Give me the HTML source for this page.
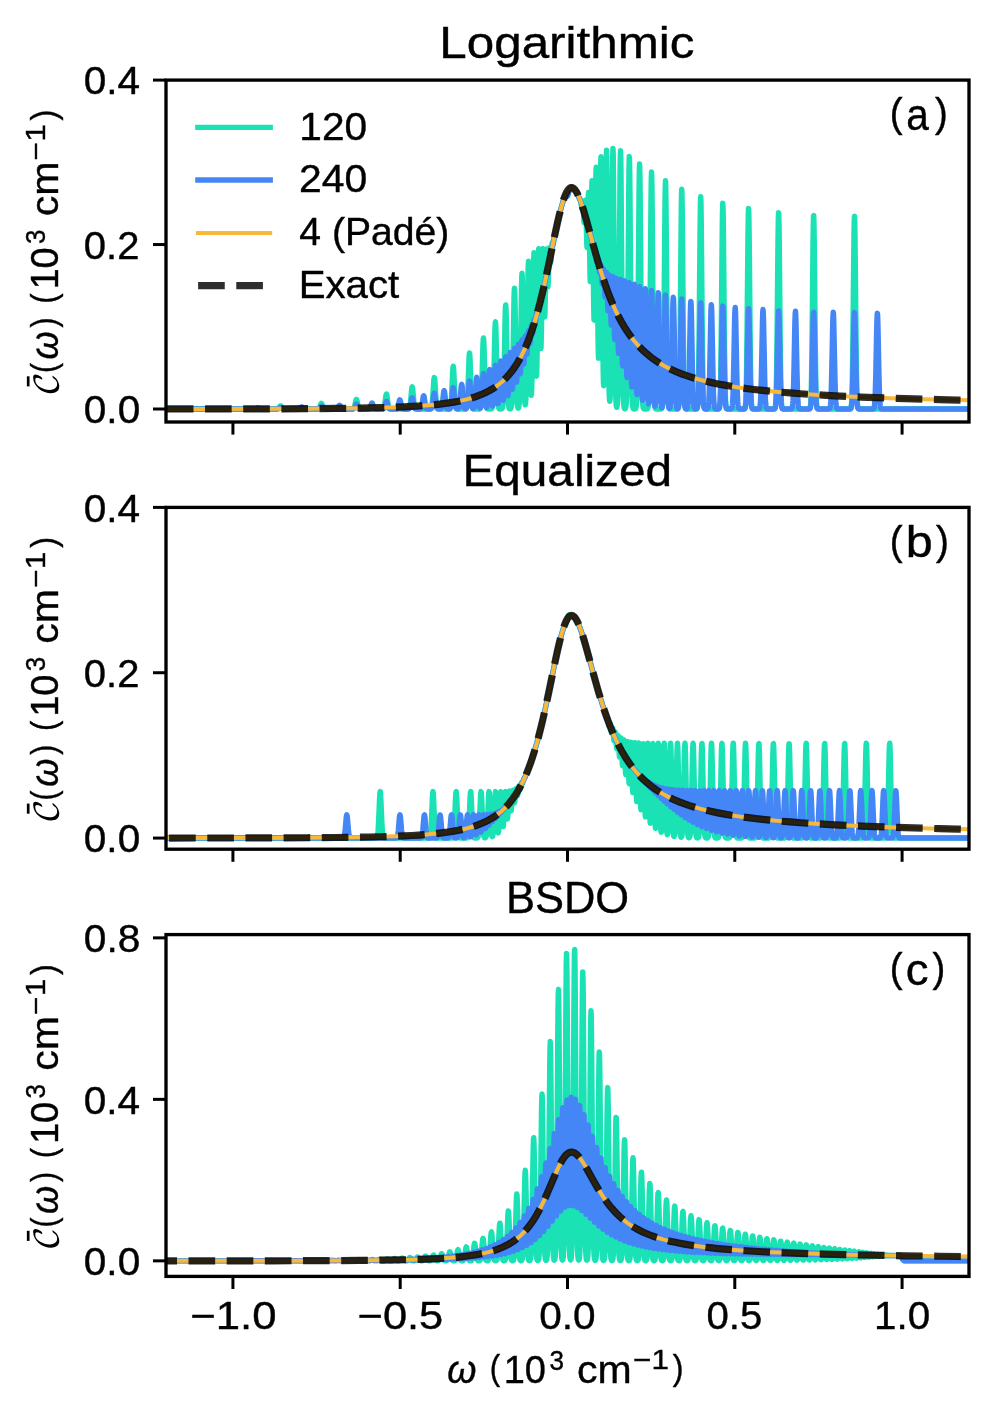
<!DOCTYPE html>
<html><head><meta charset="utf-8"><title>Bath correlation spectra</title>
<style>
html,body{margin:0;padding:0;background:#fff}
body{width:995px;height:1420px;position:relative;overflow:hidden;font-family:"Liberation Sans",sans-serif}
svg text{font-family:"Liberation Sans",sans-serif;fill:#000;stroke:#000;stroke-width:.4px}
</style></head><body>
<svg width="995" height="1420" viewBox="0 0 995 1420" style="display:block;position:absolute;left:0;top:0">
<rect width="995" height="1420" fill="#fff"/>
<defs>
<clipPath id="cpa"><rect x="166.00" y="80.10" width="803.00" height="341.90"/></clipPath>
<clipPath id="cpb"><rect x="166.00" y="507.40" width="803.00" height="341.80"/></clipPath>
<clipPath id="cpc"><rect x="166.00" y="934.60" width="803.00" height="341.80"/></clipPath>
</defs>
<g clip-path="url(#cpa)" fill="none" stroke-linejoin="round">
<path d="M158 409L276.75 408.99L277.75 408.86L278.25 408.61L278.75 408.12L280 406.18L280.25 405.94L280.5 405.85L280.75 405.91L281 406.11L282.25 408.04L282.75 408.57L283.25 408.84L284 408.98L317.5 408.99L318 408.94L318.5 408.79L319 408.4L319.25 408.06L319.75 407L320.75 404.1L321 403.59L321.25 403.32L321.5 403.33L321.75 403.62L322 404.14L323 407.05L323.5 408.08L324 408.65L324.25 408.8L324.75 408.94L326.25 409L352.25 408.99L353 408.91L353.5 408.67L353.75 408.42L354 408.04L354.25 407.49L354.75 405.76L355.75 400.9L356 400.01L356.25 399.51L356.5 399.48L356.75 399.91L357 400.75L358 405.62L358.5 407.4L358.75 407.98L359 408.38L359.25 408.64L359.75 408.9L360.25 408.98L361.25 409L382.25 408.99L383 408.87L383.5 408.53L383.75 408.17L384 407.61L384.25 406.79L384.75 404.2L385.75 396.57L386 395.1L386.25 394.21L386.5 394.03L386.75 394.59L387 395.82L388 403.41L388.5 406.3L388.75 407.27L389 407.94L389.25 408.38L389.5 408.66L390 408.91L391 409L408 408.98L408.75 408.81L409 408.64L409.25 408.33L409.5 407.81L409.75 407.01L410 405.82L410.5 402.04L411.5 390.74L411.75 388.5L412 387.11L412.25 386.78L412.5 387.55L412.75 389.3L413.75 400.53L414.25 404.89L414.5 406.35L414.75 407.37L415 408.05L415.25 408.47L415.5 408.72L415.75 408.86L416.5 408.99L430.25 408.96L430.75 408.8L431 408.61L431.25 408.25L431.5 407.65L431.75 406.69L432 405.25L432.25 403.19L432.75 397.02L433.75 381.13L434 378.64L434.25 377.56L434.5 378.03L434.75 379.99L435 383.15L435.75 395.48L436.25 402.18L436.5 404.5L436.75 406.18L437 407.32L437.25 408.05L437.5 408.49L437.75 408.74L438 408.87L438.5 408.97L449 408.97L449.5 408.85L449.75 408.69L450 408.4L450.25 407.87L450.5 406.98L450.75 405.57L451 403.46L451.5 396.6L452.75 370.4L453 367.34L453.25 366.24L453.5 367.26L453.75 370.25L454.75 391.59L455.25 400.37L455.5 403.36L455.75 405.5L456 406.93L456.25 407.84L456.5 408.38L456.75 408.69L457 408.85L457.5 408.97L465.25 408.96L465.75 408.81L466 408.61L466.25 408.22L466.5 407.54L466.75 406.39L467 404.57L467.25 401.84L467.75 392.92L469 358.57L469.25 354.49L469.5 352.96L469.75 354.22L470 358.07L471 385.98L471.5 397.55L471.75 401.51L472 404.34L472.25 406.24L472.5 407.45L472.75 408.17L473 408.58L473.25 408.8L473.5 408.91L474.75 409L478.5 409L479.25 408.94L479.75 408.72L480 408.42L480.25 407.86L480.5 406.88L480.75 405.26L481 402.71L481.25 398.96L481.75 386.95L482.75 350.84L483 343.63L483.25 339.13L483.5 337.97L483.75 340.34L484 345.88L485.25 389.49L485.5 395.73L485.75 400.42L486 403.72L486.25 405.91L486.5 407.28L486.75 408.09L487 408.54L487.25 408.78L487.5 408.9L488 408.98L490.5 408.99L491.25 408.92L491.5 408.82L491.75 408.61L492 408.2L492.25 407.45L492.5 406.14L492.75 403.98L493 400.64L493.25 395.74L493.75 380.36L494.75 335.86L495 327.46L495.25 322.55L495.5 321.83L495.75 325.41L496 332.77L497.25 386.38L497.5 393.74L497.75 399.21L498 403.03L498.25 405.54L498.5 407.09L498.75 408L499 408.5L499.25 408.76L499.75 408.95L500.75 408.99L501.5 408.91L501.75 408.79L502 408.54L502.25 408.06L502.5 407.18L502.75 405.64L503 403.11L503.25 399.17L503.5 393.39L504 375.18L505 322.08L505.25 311.94L505.5 305.93L505.75 304.91L506 309.03L506.25 317.69L507.25 370.56L507.5 381.69L508 397.14L508.25 401.76L508.5 404.79L508.75 406.67L509 407.78L509.25 408.39L509.5 408.7L509.75 408.85L510.25 408.88L510.5 408.78L510.75 408.54L511 408.05L511.25 407.14L511.5 405.53L511.75 402.85L512 398.64L512.25 392.4L512.75 372.32L514 298.52L514.25 290.54L514.5 288.2L514.75 291.86L515 300.97L516.25 375.09L516.75 393.99L517 399.73L517.25 403.55L517.5 405.93L517.75 407.3L518 407.98L518.25 408.16L518.5 407.89L518.75 407.07L519 405.48L519.25 402.75L519.5 398.39L519.75 391.83L520.25 370.37L521.5 287.13L521.75 277.11L522 273.25L522.25 276.14L522.5 285.33L523.5 352.83L524 380.96L524.25 390.56L524.5 397.34L524.75 401.71L525 404.09L525.25 404.79L525.5 403.9L525.75 401.27L526 396.54L526.25 389.23L526.5 378.87L527 348.43L528 274.72L528.25 264.48L528.5 261.09L528.75 265.04L529 275.74L530 349.6L530.5 378.82L530.75 388L531 393.45L531.25 395.26L531.5 393.48L531.75 388.01L532 378.7L532.5 348.66L533.5 270.11L533.75 257.98L534 252.82L534.25 255.4L534.5 265.29L535.75 356.87L536 368.74L536.25 375.33L536.5 376.23L536.75 371.37L537 360.99L537.25 345.74L538.25 267.16L538.5 254.47L538.75 248.78L539 250.9L539.25 260.37L540.25 330.2L540.5 342.49L540.75 348.62L541 347.81L541.25 340.17L541.5 326.68L542.25 271.85L542.5 257.65L542.75 249.49L543 248.51L543.25 254.6L544.25 308.75L544.5 316L544.75 316.81L545 311.08L545.25 299.96L546 258.49L546.25 250.76L546.5 248.86L546.75 252.65L547.5 279.74L547.75 285.61L548 286.77L548.25 283.01L549 256.88L549.25 250.41L549.5 247.68L549.75 248.74L550.5 261.05L550.75 262.49L551 261.05L551.75 247.41L552 244.07L552.25 242.67L552.5 242.94L553 244.94L553.25 244.91L553.5 243.68L554.25 236.82L554.5 235.25L554.75 234.33L555.25 233.18L555.5 232.33L556.75 225.87L558.75 217.32L560.5 210.33L561.75 205.76L562.75 202.41L563.75 199.37L564.5 197.41L565 196.39L565.5 195.78L565.75 195.66L566 195.66L566.75 196.07L567 196.14L567.25 196.06L567.5 195.78L568 194.58L569.25 190.21L569.5 189.56L570 188.64L570.5 188.13L570.75 187.98L571.25 187.82L572 187.83L572.5 187.96L573 188.19L573.75 188.7L574.5 189.4L575.25 190.31L576.25 191.77L577.5 194.15L578.25 195.42L578.5 196L579.25 198.6L579.5 199.23L579.75 199.46L580.25 199.33L580.5 199.75L580.75 200.95L581.5 207.07L581.75 207.75L582 206.97L582.5 203L582.75 202.05L583 203.24L583.25 206.84L583.75 217.79L584 221.8L584.25 222.7L584.5 219.94L585.25 202.05L585.5 200.25L585.75 203.42L586 211.42L586.75 243.5L587 247.44L587.25 244.84L587.5 236.05L588.25 197.88L588.5 192.5L588.75 194.88L589 205.16L589.75 260.26L590 274.63L590.25 281.48L590.5 279.24L590.75 268.05L591.75 189.48L592 180.71L592.25 182.03L592.5 193.59L592.75 213.72L593.5 291.12L593.75 309.82L594 319.95L594.25 320.08L594.5 310.03L594.75 290.93L595.75 184.81L596 170.48L596.25 167.27L596.5 175.84L596.75 194.98L597.75 313.28L598 336.07L598.25 351.35L598.5 358.09L598.75 355.85L599 344.69L599.25 325.19L600.5 176.86L600.75 160.87L601 156.71L601.25 165.04L601.5 184.63L602.5 311.49L603 359.91L603.25 374.81L603.5 383.4L603.75 385.88L604 382.3L604.25 372.53L604.5 356.34L605 305.12L606 175.9L606.25 157.18L606.5 150.28L606.75 156.21L607 174.11L608 303.05L608.5 356.29L608.75 374.41L609 387.17L609.25 395.39L609.5 399.9L609.75 401.29L610 399.76L610.25 395.09L610.5 386.66L610.75 373.63L611 355.19L611.5 301.2L612.5 171.65L612.75 154L613 148.47L613.25 155.86L613.5 175.1L614.75 334.85L615.25 376.05L615.5 388.63L615.75 397L616 402.24L616.25 405.28L616.5 406.82L616.75 407.3L617 406.87L617.25 405.39L617.5 402.45L617.75 397.35L618 389.19L618.25 376.9L618.75 336.47L620 177.98L620.25 158.49L620.5 150.67L620.75 155.67L621 172.74L622.25 330.56L622.75 373.5L623 386.85L623.25 395.86L623.5 401.58L623.75 405.02L624 406.97L624.25 408.01L624.5 408.52L624.75 408.74L625 408.78L625.25 408.65L625.5 408.28L625.75 407.51L626 406.03L626.25 403.36L626.5 398.79L626.75 391.43L627 380.24L627.5 342.74L627.75 315.74L628.75 187.5L629 166.48L629.25 156.48L629.5 158.96L629.75 173.54L630 198.14L631 326.95L631.5 371.14L631.75 385.15L632 394.71L632.25 400.86L632.5 404.59L632.75 406.73L633 407.89L633.25 408.48L633.5 408.77L633.75 408.9L634.25 408.98L634.75 408.98L635.25 408.87L635.5 408.7L635.75 408.33L636 407.59L636.25 406.18L636.5 403.63L636.75 399.26L637 392.22L637.25 381.49L637.5 366.12L637.75 345.43L639 194.79L639.25 174.09L639.5 164.03L639.75 166.05L640 179.86L640.25 203.48L641.25 328.52L641.75 371.75L642 385.5L642.25 394.9L642.5 400.95L642.75 404.63L643 406.75L643.25 407.89L643.5 408.48L643.75 408.77L644 408.9L644.5 408.99L646.25 409L647 408.94L647.25 408.86L647.5 408.67L647.75 408.27L648 407.48L648.25 405.97L648.5 403.27L648.75 398.71L649 391.4L649.25 380.38L649.5 364.75L649.75 343.93L651 198.44L651.25 179.96L651.5 172.07L651.75 175.92L652 190.94L652.25 214.99L653.25 335.45L653.75 375.5L654 388.03L654.25 396.52L654.5 401.94L654.75 405.2L655 407.05L655.25 408.05L655.5 408.56L655.75 408.81L656 408.92L656.5 408.99L660.5 408.99L661 408.93L661.25 408.83L661.5 408.62L661.75 408.17L662 407.28L662.25 405.62L662.5 402.69L662.75 397.78L663 390.02L663.25 378.49L663.5 362.35L664 315.2L665 201.51L665.25 185.82L665.5 180.72L665.75 186.94L666 203.57L667.25 343.5L667.75 379.83L668 390.95L668.25 398.38L668.5 403.05L668.75 405.84L669 407.4L669.25 408.23L669.5 408.65L669.75 408.85L670 408.94L670.5 408.99L675.75 409L677 408.97L677.5 408.84L677.75 408.64L678 408.22L678.25 407.38L678.5 405.81L678.75 403.03L679 398.37L679.25 391L679.5 380.01L679.75 364.6L680.25 319.46L681.25 209.73L681.5 194.34L681.75 189.1L682 194.76L682.25 210.51L683.5 345.23L684 380.52L684.25 391.35L684.5 398.59L684.75 403.17L685 405.89L685.25 407.42L685.5 408.24L685.75 408.65L686 408.85L686.5 408.98L687 409L695 409L696 408.97L696.5 408.82L696.75 408.6L697 408.13L697.25 407.23L697.5 405.54L697.75 402.58L698 397.66L698.25 389.98L698.5 378.65L698.75 362.94L699.25 317.78L700 234.58L700.25 213.21L700.5 199.99L700.75 196.81L701 204.15L701.25 220.92L702.25 328.14L702.75 369.78L703 383.67L703.25 393.44L703.5 399.91L703.75 403.95L704 406.33L704.25 407.66L704.5 408.36L704.75 408.71L705 408.87L705.25 408.95L706 409L717.5 409L718 408.98L718.5 408.88L718.75 408.72L719 408.38L719.25 407.7L719.5 406.41L719.75 404.1L720 400.18L720.25 393.9L720.5 384.42L720.75 370.94L721.25 330.54L722.25 226.53L722.5 210.26L722.75 203.15L723 206.24L723.25 219.07L723.5 239.8L724.5 344.53L725 379.56L725.25 390.55L725.5 398.01L725.75 402.77L726 405.64L726.25 407.28L726.5 408.16L726.75 408.61L727 408.83L727.5 408.97L728.25 409L743 409L744 408.95L744.5 408.74L744.75 408.42L745 407.79L745.25 406.58L745.5 404.41L745.75 400.71L746 394.76L746.25 385.75L746.5 372.88L747 334.03L748 232.32L748.25 215.94L748.5 208.37L748.75 210.72L749 222.65L749.25 242.44L750.25 344.69L750.75 379.44L751 390.42L751.25 397.89L751.5 402.68L751.75 405.58L752 407.24L752.25 408.14L752.5 408.6L752.75 408.82L753.25 408.97L754 409L773.75 408.99L774.25 408.9L774.5 408.78L774.75 408.5L775 407.95L775.25 406.88L775.5 404.94L775.75 401.6L776 396.19L776.25 387.9L776.5 375.94L777 339.24L778 239.02L778.25 221.7L778.5 212.73L778.75 213.4L779 223.63L779.25 241.93L780.25 342.31L780.75 377.83L781 389.24L781.25 397.08L781.5 402.17L781.75 405.27L782 407.07L782.25 408.05L782.5 408.55L782.75 408.8L783.25 408.97L784 409L808.75 408.99L809.25 408.91L809.5 408.8L809.75 408.55L810 408.04L810.25 407.05L810.5 405.24L810.75 402.12L811 397.03L811.25 389.18L811.5 377.79L812 342.45L813 243.44L813.25 225.61L813.5 215.83L813.75 215.49L814 224.66L814.25 241.99L815.25 340.93L815.75 376.85L816 388.51L816.25 396.58L816.5 401.84L816.75 405.08L817 406.96L817.25 407.99L817.5 408.52L817.75 408.79L818 408.91L818.75 408.99L849.5 408.99L850 408.94L850.25 408.85L850.5 408.66L850.75 408.26L851 407.48L851.25 406.02L851.5 403.45L851.75 399.16L852 392.42L852.25 382.43L852.75 350.33L854 232.53L854.25 219.83L854.5 216.15L854.75 222.04L855 236.63L856.25 354.96L856.75 385.1L857 394.26L857.25 400.35L857.5 404.18L857.75 406.44L858 407.71L858.25 408.38L858.5 408.72L858.75 408.88L859.25 408.98L860 409L977 409" stroke="#1be2b4" stroke-width="5.40"/>
<path d="M158 409L253.75 409L254.75 408.96L255.5 408.82L256 408.61L257 408.04L257.5 407.88L257.75 407.87L258.25 408.03L259.25 408.6L259.75 408.81L260.75 408.98L276.75 409L277.75 408.93L278.25 408.8L278.75 408.56L280 407.59L280.5 407.42L281 407.56L282.5 408.67L283 408.86L283.5 408.95L284.75 409L297.75 409L298.75 408.94L299.5 408.71L300 408.36L301.25 407.05L301.5 406.9L301.75 406.86L302 406.92L302.25 407.08L303.25 408.15L303.75 408.58L304.25 408.83L304.75 408.95L306 409L317.5 408.99L318.5 408.9L319 408.7L319.25 408.53L319.75 408L320.75 406.55L321 406.29L321.25 406.16L321.5 406.16L321.75 406.31L322 406.57L323.25 408.31L323.75 408.71L324.25 408.9L325.5 409L335.5 409L336.5 408.91L337 408.73L337.25 408.56L337.5 408.31L338 407.58L339 405.7L339.25 405.4L339.5 405.27L339.75 405.33L340 405.56L340.25 405.94L341 407.4L341.5 408.19L342 408.67L342.5 408.89L343.75 409L352.25 409L353 408.95L353.5 408.83L354 408.52L354.25 408.24L354.75 407.38L355.75 404.95L356 404.5L356.25 404.26L356.5 404.24L356.75 404.46L357 404.88L358.25 407.81L358.75 408.49L359.25 408.82L359.75 408.95L360.5 408.99L368 408.99L368.5 408.96L369 408.83L369.5 408.5L369.75 408.2L370.25 407.21L371.5 403.52L371.75 403.1L372 402.97L372.25 403.13L372.5 403.57L373.5 406.59L374 407.81L374.25 408.23L374.75 408.72L375.25 408.92L376 408.99L382.25 408.99L383 408.93L383.5 408.76L384 408.31L384.25 407.9L384.75 406.6L385.75 402.79L386 402.05L386.25 401.6L386.5 401.52L386.75 401.8L387 402.41L388.25 407.01L388.75 408.13L389.25 408.69L389.75 408.91L390.5 408.99L395.75 408.99L396.25 408.94L396.75 408.79L397.25 408.34L397.5 407.93L397.75 407.33L398.25 405.55L399.25 400.9L399.5 400.16L399.75 399.82L400 399.94L400.25 400.49L400.5 401.41L401.25 405L401.75 406.97L402 407.66L402.25 408.16L402.5 408.5L403 408.85L403.5 408.96L408 408.99L408.75 408.91L409.25 408.66L409.5 408.41L409.75 408L410 407.41L410.5 405.52L411.5 399.87L411.75 398.75L412 398.06L412.25 397.89L412.5 398.27L412.75 399.15L414 405.98L414.25 406.95L414.5 407.67L414.75 408.19L415 408.52L415.25 408.74L415.75 408.93L416.75 409L419.5 408.99L420.25 408.88L420.75 408.57L421 408.25L421.25 407.75L421.5 407.01L422 404.69L423 397.92L423.25 396.63L423.5 395.86L423.75 395.73L424 396.25L424.25 397.36L425.5 405.52L425.75 406.65L426 407.49L426.25 408.08L426.5 408.46L426.75 408.7L427.25 408.92L428 408.99L430.25 408.98L430.75 408.9L431.25 408.63L431.5 408.33L431.75 407.85L432 407.12L432.25 406.09L432.75 403.01L433.75 395.06L434 393.82L434.25 393.28L434.5 393.51L434.75 394.49L435 396.08L436 404.08L436.25 405.59L436.75 407.59L437 408.16L437.25 408.52L437.75 408.87L438.5 408.99L440 408.98L440.75 408.82L441 408.65L441.25 408.36L441.5 407.88L441.75 407.15L442 406.08L442.5 402.76L443.5 393.38L443.75 391.67L444 390.72L444.25 390.66L444.5 391.5L444.75 393.12L445.75 402.49L446 404.41L446.5 407.03L446.75 407.81L447 408.31L447.25 408.62L447.75 408.9L448.25 408.98L449 408.98L449.75 408.85L450 408.7L450.25 408.43L450.5 407.99L450.75 407.28L451 406.23L451.5 402.8L452.75 389.7L453 388.17L453.25 387.62L453.5 388.13L453.75 389.63L455 402.71L455.5 406.18L455.75 407.25L456 407.97L456.25 408.42L456.5 408.69L456.75 408.84L457.25 408.96L457.75 408.95L458.25 408.79L458.5 408.59L458.75 408.25L459 407.68L459.25 406.78L459.5 405.46L460 401.26L461 388.76L461.25 386.3L461.5 384.79L461.75 384.45L462 385.32L462.25 387.28L463.25 399.7L463.75 404.5L464 406.09L464.25 407.22L464.5 407.96L464.75 408.42L465 408.69L465.25 408.83L465.75 408.87L466 408.79L466.25 408.61L466.5 408.27L466.75 407.7L467 406.78L467.25 405.42L467.75 400.96L469 383.79L469.25 381.74L469.5 380.98L469.75 381.61L470 383.53L471.25 400.67L471.75 405.25L472 406.67L472.25 407.61L472.5 408.2L472.75 408.53L473 408.68L473.25 408.67L473.5 408.5L473.75 408.13L474 407.48L474.25 406.44L474.5 404.87L474.75 402.67L475.25 396.21L476.25 380.37L476.5 378.12L476.75 377.32L477 378.09L477.25 380.33L478.25 396.15L478.75 402.63L479 404.83L479.25 406.39L479.5 407.41L479.75 408L480 408.25L480.25 408.2L480.5 407.83L480.75 407.08L481 405.84L481.25 403.97L481.75 397.97L482.75 379.92L483 376.31L483.25 374.06L483.5 373.49L483.75 374.67L484 377.44L485 395.35L485.5 402.33L485.75 404.63L486 406.18L486.25 407.09L486.5 407.44L486.75 407.25L487 406.5L487.25 405.1L487.5 402.95L488 396.02L489 375.89L489.25 372.09L489.5 369.87L489.75 369.55L490 371.17L490.25 374.51L491.25 394.53L491.75 401.9L492 404.17L492.25 405.52L492.5 406L492.75 405.63L493 404.36L493.25 402.15L493.5 398.9L494 389.46L494.75 372.43L495 368.23L495.25 365.77L495.5 365.41L495.75 367.2L496 370.88L497.25 397.33L497.5 400.67L497.75 402.79L498 403.68L498.25 403.32L498.5 401.69L498.75 398.77L499.25 389.29L500.25 365.51L500.5 362.18L500.75 361.07L501 362.33L501.25 365.78L502.5 394.26L502.75 397.85L503 399.88L503.25 400.26L503.5 398.95L503.75 395.96L504 391.42L505 365.51L505.25 360.46L505.5 357.45L505.75 356.94L506 358.97L506.25 363.25L507 382.45L507.5 392.6L507.75 395.13L508 395.6L508.25 393.94L508.5 390.25L508.75 384.8L509.75 357.8L510 353.91L510.25 352.59L510.5 354.03L510.75 357.97L511.75 383.34L512 387.56L512.25 389.56L512.5 389.09L512.75 386.16L513 381.07L514 353.54L514.25 349.61L514.5 348.42L514.75 350.1L515 354.34L515.75 373.76L516 378.89L516.25 381.84L516.5 382.14L516.75 379.69L517 374.8L517.75 353.62L518 348.01L518.25 344.8L518.5 344.47L518.75 347.01L519.75 369.86L520 373.12L520.25 373.68L520.5 371.38L520.75 366.58L521.5 346.58L521.75 342.01L522 340.06L522.25 341.02L522.5 344.55L523.25 360.6L523.5 363.69L523.75 364.16L524 361.84L524.25 357.15L525 339.4L525.25 336.24L525.5 335.74L525.75 337.85L526.5 351.03L526.75 353.7L527 353.96L527.25 351.67L528 336.58L528.25 332.64L528.5 330.86L528.75 331.47L529 334.06L529.5 341.17L529.75 343.35L530 343.5L530.25 341.47L531 329.05L531.25 326.28L531.5 325.42L531.75 326.44L532.25 331.2L532.5 332.93L532.75 333.14L533 331.6L533.75 321.94L534 319.89L534.25 319.34L534.5 320.09L535 322.75L535.25 323.08L535.5 322.15L536.25 314.93L536.5 313.18L536.75 312.47L537 312.63L537.25 313.16L537.5 313.45L537.75 313.03L538 311.78L538.75 306.24L539 305.19L539.25 304.73L539.5 304.56L539.75 304.29L540 303.59L541 298.02L541.25 297.06L542 294.95L542.25 293.89L543 290.07L544 286.16L547.5 270.1L556.25 228.34L558.75 217.34L560.75 209.38L562 204.89L563 201.62L564 198.68L564.75 196.87L565.25 196.05L565.5 195.82L565.75 195.71L566 195.74L566.75 196.23L567 196.32L567.25 196.25L567.5 195.97L568 194.76L569.25 190.27L569.75 189.07L570 188.66L570.5 188.13L571 187.88L571.5 187.8L572 187.83L572.75 188.06L573.25 188.34L574 188.91L574.5 189.41L575.25 190.31L576 191.39L576.75 192.65L578 195.11L579.5 198.62L581 202.64L582.75 207.87L584.25 212.73L586 218.72L590 233.01L591 237.04L591.75 239.21L592 240.12L592.75 243.79L593 244.7L593.25 245.23L593.75 245.99L594 246.84L594.75 251.59L595 252.74L595.25 253.16L595.5 252.98L595.75 252.68L596 252.87L596.25 253.96L597 260.76L597.25 262.07L597.5 262.09L598 259.72L598.25 259.01L598.5 259.7L598.75 262L599.25 269.1L599.5 271.76L599.75 272.6L600 271.44L600.5 266.16L600.75 264.56L601 265.11L601.25 268.07L602 282.33L602.25 284.22L602.5 283.22L603.25 270.95L603.5 268.96L603.75 270.13L604 274.52L604.75 294.16L605 296.98L605.25 296.04L605.5 291.66L606 278.45L606.25 273.67L606.5 272.4L606.75 275.33L607 282.02L607.75 307.34L608 310.76L608.25 309.6L608.5 304.18L609.25 279.13L609.5 275.13L609.75 275.91L610 281.57L610.75 313.34L611 321.48L611.25 325.16L611.5 323.6L611.75 317.14L612.5 285.52L612.75 278.63L613 276.72L613.25 280.39L613.5 289.08L614.25 326.88L614.5 335.71L614.75 339.58L615 337.82L615.25 330.74L616.25 283.77L616.5 278.57L616.75 279.2L617 285.67L617.25 296.95L618 339.31L618.25 348.86L618.5 353.34L618.75 352.11L619 345.36L620 292.19L620.25 283.08L620.5 279.45L620.75 282L621 290.37L622 348.92L622.25 359.57L622.5 365.46L622.75 365.94L623 360.97L623.25 351.11L624.25 293.09L624.5 284.1L624.75 280.83L625 283.82L625.25 292.64L626.25 353.84L626.5 366.08L626.75 374.23L627 377.64L627.25 376.07L627.5 369.64L628 344.71L628.75 298.04L629 287.65L629.25 282.7L629.5 283.95L629.75 291.23L630 303.49L631 366.23L631.25 377.14L631.5 384.21L631.75 387.12L632 385.79L632.25 380.26L632.5 370.77L633.75 296.46L634 287.49L634.25 284.2L634.5 287.1L634.75 295.76L635.75 357.66L636.25 382.27L636.5 389.76L636.75 393.85L637 394.53L637.25 391.83L637.5 385.73L637.75 376.29L639 301.88L639.25 291.54L639.5 286.51L639.75 287.52L640 294.43L640.25 306.23L641.25 368.61L641.75 389.68L642 395.86L642.25 399.31L642.5 400.2L642.75 398.58L643 394.37L643.25 387.39L643.5 377.52L644.75 303.74L645 293.57L645.25 288.61L645.5 289.59L645.75 296.37L646 307.97L647 369.39L647.5 390.51L647.75 397.07L648 401.3L648.25 403.53L648.5 403.99L648.75 402.74L649 399.66L649.25 394.44L649.5 386.76L650 363.48L651 303.72L651.25 294.48L651.5 290.54L651.75 292.46L652 299.97L652.25 312L653.25 372.22L653.75 392.22L654 398.44L654.25 402.57L654.5 405.06L654.75 406.25L655 406.35L655.25 405.39L655.5 403.19L655.75 399.44L656 393.7L656.25 385.61L656.75 361.8L657.75 303.7L658 295.5L658.25 292.66L658.5 295.59L658.75 303.86L659.75 362.01L660.25 385.76L660.5 393.84L660.75 399.59L661 403.42L661.25 405.81L661.5 407.15L661.75 407.74L662 407.74L662.25 407.13L662.5 405.76L662.75 403.35L663 399.5L663.25 393.74L663.75 375.08L665 305.25L665.25 297.41L665.5 294.86L665.75 297.97L666 306.29L667.25 376.25L667.75 394.42L668 399.97L668.25 403.68L668.5 406.02L668.75 407.39L669 408.13L669.25 408.46L669.5 408.49L669.75 408.23L670 407.58L670.25 406.35L670.5 404.25L670.75 400.87L671 395.75L671.25 388.47L671.75 366.6L672.75 310.02L673 301.09L673.25 297.13L673.5 298.7L673.75 305.58L674 316.78L675 373.73L675.5 392.86L675.75 398.88L676 402.96L676.25 405.57L676.5 407.15L676.75 408.05L677 408.52L677.25 408.75L677.5 408.83L677.75 408.78L678 408.59L678.25 408.18L678.5 407.4L678.75 406.01L679 403.68L679.25 400L679.5 394.5L680 376.67L681.25 309.36L681.5 301.67L681.75 299.05L682 301.88L682.25 309.76L683.5 377.12L684 394.76L684.25 400.17L684.5 403.8L684.75 406.08L685 407.45L685.25 408.21L685.5 408.62L685.75 408.82L686 408.92L686.5 408.94L686.75 408.87L687 408.73L687.25 408.42L687.5 407.84L687.75 406.78L688 404.96L688.25 402L688.5 397.47L689 382.08L689.25 370.85L690.25 315.95L690.5 306.44L690.75 301.5L691 301.85L691.25 307.43L691.5 317.43L692.5 372.41L693 391.89L693.25 398.15L693.5 402.46L693.75 405.25L694 406.95L694.25 407.94L694.5 408.48L694.75 408.75L695 408.89L695.75 408.99L696.5 408.91L696.75 408.8L697 408.57L697.25 408.11L697.5 407.27L697.75 405.79L698 403.33L698.25 399.49L698.5 393.82L698.75 385.97L699 375.77L700 321.79L700.25 311.1L700.5 304.5L700.75 302.91L701 306.57L701.25 314.96L702.25 368.57L702.75 389.39L703 396.33L703.25 401.22L703.5 404.46L703.75 406.48L704 407.67L704.25 408.33L704.5 408.68L704.75 408.85L705.5 408.99L707 408.94L707.5 408.71L707.75 408.39L708 407.78L708.25 406.67L708.5 404.78L708.75 401.74L709 397.12L709.25 390.52L709.5 381.64L710.75 317.52L711 308.84L711.25 304.71L711.5 305.73L711.75 311.75L712 321.91L713 375.11L713.5 393.36L713.75 399.15L714 403.1L714.25 405.64L714.5 407.18L714.75 408.06L715 408.54L715.25 408.79L715.5 408.91L716.5 409L718.5 408.94L719 408.69L719.25 408.35L719.5 407.71L719.75 406.55L720 404.59L720.25 401.45L720.5 396.71L720.75 389.97L721 380.98L722.25 317.76L722.5 309.63L722.75 306.08L723 307.62L723.25 314.03L723.5 324.4L724.5 376.77L725 394.28L725.25 399.78L725.5 403.5L725.75 405.88L726 407.32L726.25 408.14L726.5 408.58L726.75 408.81L727 408.91L727.75 408.99L730.5 408.99L731 408.91L731.25 408.8L731.5 408.57L731.75 408.12L732 407.29L732.25 405.84L732.5 403.44L732.75 399.69L733 394.18L733.25 386.56L733.75 364.76L734.5 324.98L734.75 314.9L735 308.77L735.25 307.47L735.5 311.2L735.75 319.41L736.75 370.83L737.25 390.57L737.5 397.12L737.75 401.72L738 404.76L738.25 406.65L738.5 407.76L738.75 408.38L739 408.7L739.25 408.87L739.75 408.98L741 409L743.75 408.99L744.5 408.87L744.75 408.71L745 408.4L745.25 407.79L745.5 406.71L745.75 404.86L746 401.88L746.25 397.37L746.75 382.32L748 320.66L748.25 312.47L748.5 308.68L748.75 309.86L749 315.83L749.25 325.72L750.25 376.85L750.75 394.22L751 399.71L751.25 403.44L751.5 405.84L751.75 407.29L752 408.12L752.25 408.57L752.5 408.8L752.75 408.91L753.5 408.99L757.75 409L758.5 408.97L759 408.85L759.25 408.66L759.5 408.3L759.75 407.62L760 406.4L760.25 404.36L760.5 401.11L760.75 396.26L761 389.42L761.5 369.27L762.5 319.44L762.75 312.22L763 309.54L763.25 311.79L763.5 318.65L764.75 379.51L765.25 395.74L765.5 400.76L765.75 404.13L766 406.26L766.25 407.53L766.5 408.25L766.75 408.64L767 408.83L767.5 408.97L768.25 409L773.5 409L774.5 408.89L774.75 408.75L775 408.47L775.25 407.94L775.5 406.97L775.75 405.3L776 402.59L776.25 398.45L776.75 384.38L778 324.01L778.25 315.35L778.5 310.86L778.75 311.2L779 316.32L779.25 325.47L780.25 375.65L780.75 393.41L781 399.12L781.25 403.04L781.5 405.58L781.75 407.14L782 408.03L782.25 408.52L782.5 408.78L782.75 408.9L783.25 408.98L784.25 409L790.25 409L791.25 408.92L791.5 408.81L791.75 408.6L792 408.18L792.25 407.4L792.5 406.03L792.75 403.76L793 400.22L793.25 394.99L793.5 387.74L794 366.92L794.75 328.58L795 318.75L795.25 312.67L795.5 311.23L795.75 314.63L796 322.37L797 371.79L797.5 390.96L797.75 397.35L798 401.85L798.25 404.82L798.5 406.68L798.75 407.77L799 408.38L799.25 408.71L799.5 408.87L800 408.98L800.75 409L808.5 409L809.5 408.9L809.75 408.77L810 408.52L810.25 408.02L810.5 407.12L810.75 405.56L811 403.01L811.25 399.09L811.75 385.63L812.25 363.94L813 326.22L813.25 317.31L813.5 312.41L813.75 312.25L814 316.83L814.25 325.5L815.25 374.97L815.75 392.93L816 398.76L816.25 402.79L816.5 405.42L816.75 407.04L817 407.98L817.25 408.49L817.5 408.76L817.75 408.89L818.25 408.98L828.75 408.97L829.25 408.85L829.5 408.68L829.75 408.33L830 407.68L830.25 406.52L830.5 404.56L830.75 401.45L831 396.78L831.25 390.19L831.75 370.71L832.75 322.12L833 314.96L833.25 312.2L833.5 314.24L833.75 320.78L835 379.97L835.5 395.91L835.75 400.85L836 404.17L836.25 406.28L836.5 407.54L836.75 408.26L837 408.64L837.25 408.83L837.75 408.97L838.5 409L849.25 409L850.25 408.93L850.5 408.83L850.75 408.63L851 408.24L851.25 407.51L851.5 406.22L851.75 404.08L852 400.71L852.25 395.72L852.5 388.76L853 368.57L853.75 330.72L854 320.76L854.25 314.41L854.5 312.58L854.75 315.52L855 322.81L856.25 381.98L856.75 397.05L857 401.63L857.25 404.68L857.5 406.59L857.75 407.72L858 408.35L858.25 408.69L858.75 408.94L859.5 409L872.75 408.98L873.25 408.89L873.5 408.76L873.75 408.5L874 407.98L874.25 407.05L874.5 405.44L874.75 402.83L875 398.82L875.25 393.04L875.75 375.24L876.75 326.33L877 317.79L877.25 313.31L877.5 313.52L877.75 318.4L878 327.25L879 376.2L879.5 393.63L879.75 399.25L880 403.11L880.25 405.62L880.5 407.15L880.75 408.04L881 408.53L881.25 408.78L881.75 408.96L882.75 409L977 409" stroke="#4486f6" stroke-width="5.40"/>
<path d="M158 408.98L221.75 408.93L267.5 408.84L303 408.7L331.75 408.49L356.25 408.18L367 407.98L376.75 407.76L386 407.51L394.5 407.22L402.5 406.89L409.75 406.53L417.25 406.08L424.25 405.59L430.75 405.04L436.75 404.44L442.5 403.77L447.75 403.06L453 402.23L457.75 401.36L462.25 400.41L466.75 399.33L470.75 398.23L474.75 396.98L478.5 395.64L482 394.23L485.25 392.77L487 391.91L488.5 391.12L490.25 390.16L491.75 389.28L493.25 388.35L494.75 387.37L496.25 386.33L497.75 385.23L499.25 384.07L500.5 383.05L502 381.76L503.25 380.63L504.5 379.44L505.75 378.19L507 376.88L508.25 375.5L510.5 372.83L511.75 371.25L512.75 369.92L514 368.18L515 366.72L516.25 364.82L517.25 363.22L519.25 359.83L521.25 356.14L523.25 352.13L525.25 347.79L527.25 343.07L529 338.62L530.75 333.85L532.5 328.74L534 324.08L535.75 318.3L537.25 313.05L538.75 307.53L540.5 300.73L541.75 295.65L543.25 289.32L544.75 282.74L546.25 275.94L549 263.01L554.75 235.27L557.25 223.74L558.5 218.28L559.5 214.12L560.75 209.23L561.75 205.59L563 201.43L564.25 197.74L565 195.78L565.5 194.59L566.25 192.96L566.75 191.99L567.5 190.71L568 189.97L568.75 189.05L569.25 188.56L569.75 188.17L570.25 187.87L570.75 187.67L571 187.61L571.5 187.55L572 187.6L572.5 187.73L573 187.96L573.5 188.28L574 188.69L574.5 189.19L575 189.78L575.75 190.81L576.75 192.46L577.25 193.4L578 194.95L579 197.24L580.25 200.44L581.25 203.24L582.25 206.23L583.5 210.18L584.75 214.35L587.25 223.12L593.75 246.87L597 258.39L598.75 264.36L600.5 270.12L602.25 275.67L603.75 280.24L605.5 285.36L607.5 290.93L609.5 296.2L611.5 301.17L613.5 305.85L615.5 310.27L617.5 314.42L619.75 318.81L622 322.9L623.25 325.05L624.5 327.13L627 331.05L629.5 334.69L632 338.07L633.25 339.67L634.75 341.51L636 342.98L637.5 344.69L640.25 347.62L641.75 349.14L643.25 350.58L644.75 351.97L646.25 353.31L649.25 355.83L650.75 357.01L652.5 358.34L655.75 360.65L657.5 361.82L659.25 362.94L661 364.01L663 365.19L666.75 367.24L668.75 368.27L671 369.37L673 370.3L675.25 371.31L677.5 372.26L679.75 373.17L682 374.04L684.5 374.96L689.5 376.67L694.75 378.3L700 379.77L705.75 381.24L711.75 382.62L718 383.92L724.5 385.15L731.25 386.29L738.5 387.41L746 388.45L754 389.45L762.5 390.42L771.25 391.31L780.5 392.16L790.25 392.96L800.5 393.73L811.25 394.45L822.75 395.15L834.75 395.81L847.5 396.44L861 397.04L875 397.6L889.75 398.14L905.5 398.66L922 399.15L939.5 399.61L957.75 400.06L977 400.48" stroke="#f8b83a" stroke-width="4.00"/>
<path d="M166 408.97L227.5 408.92L272 408.83L307 408.68L335 408.45L359 408.13L369.5 407.93L379.25 407.7L388.25 407.43L396.5 407.14L404.25 406.81L411.5 406.43L418.75 405.98L425.5 405.49L431.75 404.95L437.75 404.33L443.5 403.64L448.75 402.91L453.75 402.1L458.5 401.21L463 400.24L467.25 399.2L471.25 398.08L475.25 396.81L479 395.45L482.5 394.02L485.75 392.53L487.5 391.65L489 390.85L490.5 390.01L492 389.13L493.5 388.19L495 387.2L496.5 386.15L498 385.04L499.5 383.87L500.75 382.84L502.25 381.54L503.5 380.4L504.75 379.19L506 377.93L507.25 376.61L508.5 375.21L510.75 372.52L512 370.92L513 369.58L514.25 367.82L515.25 366.35L516.5 364.43L517.5 362.81L519.5 359.38L521.5 355.65L523.5 351.61L525.5 347.22L527.25 343.07L529 338.62L530.75 333.85L532.5 328.74L534 324.08L535.75 318.3L537.25 313.05L538.75 307.53L540.5 300.73L541.75 295.65L543.25 289.32L544.75 282.74L546.25 275.94L549 263.01L554.75 235.27L557.25 223.74L558.5 218.28L559.5 214.12L560.75 209.23L561.75 205.59L563 201.43L564.25 197.74L565 195.78L565.5 194.59L566.25 192.96L566.75 191.99L567.5 190.71L568 189.97L568.75 189.05L569.25 188.56L569.75 188.17L570.25 187.87L570.75 187.67L571 187.61L571.5 187.55L572 187.6L572.5 187.73L573 187.96L573.5 188.28L574 188.69L574.5 189.19L575 189.78L575.75 190.81L576.75 192.46L577.25 193.4L578 194.95L579 197.24L580.25 200.44L581.25 203.24L582.25 206.23L583.5 210.18L584.75 214.35L587.25 223.12L593.75 246.87L597 258.39L598.75 264.36L600.5 270.12L602.25 275.67L603.75 280.24L605.5 285.36L607.5 290.93L609.5 296.2L611.5 301.17L613.5 305.85L615.5 310.27L617.5 314.42L619.75 318.81L622 322.9L623.25 325.05L624.5 327.13L627 331.05L629.5 334.69L632 338.07L633.25 339.67L634.75 341.51L636 342.98L637.5 344.69L640.25 347.62L641.75 349.14L643.25 350.58L644.75 351.97L646.25 353.31L649.25 355.83L650.75 357.01L652.5 358.34L655.75 360.65L657.5 361.82L659.25 362.94L661 364.01L663 365.19L666.75 367.24L668.75 368.27L671 369.37L673 370.3L675.25 371.31L677.5 372.26L679.75 373.17L682 374.04L684.5 374.96L689.5 376.67L694.75 378.3L700 379.77L705.75 381.24L711.75 382.62L718 383.92L724.5 385.15L731.25 386.29L738.5 387.41L746 388.45L754 389.45L762.5 390.42L771.25 391.31L780.5 392.16L790.25 392.96L800.5 393.73L811.25 394.45L822.75 395.15L834.75 395.81L847.5 396.44L861 397.04L875 397.6L889.75 398.14L905.5 398.66L922 399.15L939.5 399.61L957.75 400.06L977 400.48" stroke="#000" stroke-opacity="0.82" stroke-width="7.20" stroke-dasharray="26.65 11.52" stroke-dashoffset="37.32"/>
</g>
<g clip-path="url(#cpb)" fill="none" stroke-linejoin="round">
<path d="M158 838.07L374.5 838.07L375.75 838.05L376.25 837.98L376.5 837.88L376.75 837.69L377 837.33L377.25 836.69L377.5 835.64L377.75 833.98L378 831.54L378.5 823.7L379.5 800.07L379.75 795.33L380 792.35L380.25 791.56L380.5 793.08L380.75 796.68L381.75 820.13L382.25 829.33L382.5 832.42L382.75 834.59L383 836.03L383.25 836.94L383.5 837.47L383.75 837.77L384 837.92L384.5 838.04L385.5 838.07L427.75 838.07L429 837.99L429.25 837.89L429.5 837.7L429.75 837.35L430 836.73L430.25 835.7L430.5 834.08L430.75 831.67L431.25 823.94L432.5 795.52L432.75 792.44L433 791.55L433.25 792.95L433.5 796.47L434.5 819.86L435 829.16L435.25 832.29L435.5 834.5L435.75 835.98L436 836.9L436.25 837.45L436.5 837.76L437 838L437.75 838.06L451.5 838.06L452 838.02L452.5 837.85L452.75 837.63L453 837.21L453.25 836.49L453.5 835.32L453.75 833.5L454 830.84L454.5 822.54L455.5 798.85L455.75 794.46L456 791.96L456.25 791.71L456.5 793.74L456.75 797.75L457.75 821.39L458.25 830.13L458.5 832.99L458.75 834.98L459 836.28L459.25 837.09L459.5 837.55L459.75 837.81L460 837.95L460.5 838.05L466.5 838.03L467 837.86L467.25 837.65L467.5 837.25L467.75 836.55L468 835.41L468.25 833.64L468.75 827.48L469.25 817.35L470 799.19L470.25 794.7L470.5 792.06L470.75 791.65L471 793.54L471.25 797.44L472.25 821.03L472.75 829.91L473 832.83L473.25 834.87L473.5 836.21L473.75 837.04L474 837.53L474.25 837.8L474.75 838.01L476.5 838.06L477.25 837.93L477.5 837.78L477.75 837.5L478 836.98L478.25 836.11L478.5 834.72L478.75 832.6L479 829.59L479.25 825.57L480.5 797.01L480.75 793.28L481 791.59L481.25 792.21L481.5 795.04L481.75 799.67L482.5 817.89L483 827.85L483.25 831.32L483.5 833.83L483.75 835.54L484 836.63L484.25 837.29L484.5 837.66L484.75 837.85L485 837.92L485.25 837.89L485.5 837.76L485.75 837.48L486 836.97L486.25 836.09L486.5 834.69L486.75 832.56L487 829.53L487.5 820.43L488.5 796.93L488.75 793.22L489 791.58L489.25 792.25L489.5 795.11L489.75 799.77L490.5 817.99L491 827.91L491.25 831.34L491.5 833.8L491.75 835.4L492 836.31L492.25 836.63L492.5 836.42L492.75 835.64L493 834.19L493.25 831.92L493.5 828.69L494 819.18L495 795.94L495.25 792.66L495.5 791.53L495.75 792.71L496 796.02L497 819.17L497.5 828.29L497.75 831.06L498 832.58L498.25 832.85L498.5 831.88L498.75 829.65L499 826.17L499.5 815.89L500.25 798.01L500.5 793.9L500.75 791.75L501 791.87L501.25 794.24L501.5 798.48L502.25 815.85L502.75 824.4L503 826.36L503.25 826.52L503.5 824.87L503.75 821.53L504.75 799.36L505 794.84L505.25 792.08L505.5 791.51L505.75 793.16L506 796.74L506.75 812.15L507 816.15L507.25 818.49L507.5 818.84L507.75 817.15L508 813.65L508.75 798.23L509 794.07L509.25 791.6L509.5 791.2L509.75 792.86L510.75 808.38L511 810.47L511.25 810.67L511.5 808.93L512.5 793.1L512.75 790.79L513 790.27L513.25 791.52L514 800.41L514.25 802.45L514.5 802.98L514.75 801.86L515 799.33L515.5 792.65L515.75 790.03L516 788.68L516.25 788.79L516.5 790.15L517 794.25L517.25 795.58L517.5 795.75L517.75 794.67L518.5 787.89L518.75 786.41L519 785.98L519.25 786.52L519.75 788.74L520 789.35L520.25 789.13L520.5 788.06L521.25 783.36L521.5 782.65L521.75 782.6L522.25 783.43L522.5 783.54L522.75 783.11L523.5 779.78L523.75 778.91L524 778.45L524.25 778.33L524.5 778.3L524.75 778.12L525 777.64L526 774.31L527 772.61L528 769.66L529 767.36L531 761.77L534 752.62L536.5 744.2L539.25 734.06L542 723L544.25 713.3L546.75 701.92L554.25 665.84L556.5 655.29L558.5 646.44L560.5 638.33L562.25 632.01L563.25 628.8L564 626.64L564.5 625.4L565 624.46L565.25 624.12L566.25 623.2L566.5 622.76L567 621.18L567.75 617.64L568.25 615.8L568.5 615.3L568.75 615.07L569 615.06L569.75 615.48L570.25 615.66L571.75 615.67L572.25 615.76L572.75 615.94L573.75 616.58L574.25 617.03L575 617.88L576.25 619.69L577.75 622.5L579.25 625.93L580.75 629.89L583 636.65L585.5 645.02L588 653.93L595.25 680.5L597 686.71L597.75 689.06L598.75 692.8L599.75 695.7L600.5 698.73L600.75 699.5L601.5 701.17L601.75 702.04L602.5 705.33L602.75 706.01L603.25 706.63L603.5 707.08L603.75 707.92L604.5 711.72L604.75 712.44L605 712.66L605.25 712.6L605.5 712.66L605.75 713.22L606 714.4L606.5 717.65L606.75 718.81L607 719.23L607.25 718.97L607.5 718.44L607.75 718.22L608 718.77L608.25 720.21L608.75 724.3L609 725.72L609.25 726.09L609.5 725.48L610 723.48L610.25 723.52L610.5 724.8L611.25 732.15L611.5 733.26L611.75 732.9L612.5 728.15L612.75 728.18L613 729.87L613.75 739.35L614 740.78L614.25 740.33L615 732.94L615.25 731.95L615.5 733.04L615.75 736.12L616.25 744.74L616.5 747.82L616.75 748.77L617 747.35L617.75 736.74L618 735.29L618.25 736.4L618.5 739.99L619.25 755.06L619.5 757.04L619.75 756.16L620 752.7L620.5 742.58L620.75 738.96L621 737.97L621.25 740.1L622.25 763.31L622.5 765.7L622.75 764.75L623 760.73L623.75 742.74L624 740.04L624.25 740.81L624.5 745.04L625.25 767.43L625.5 772.74L625.75 774.73L626 772.97L626.25 767.85L627 745.85L627.25 741.89L627.5 741.66L627.75 745.35L628 752.33L628.75 778.12L629 782.81L629.25 783.64L629.5 780.47L629.75 773.88L630.5 748.13L630.75 743.24L631 742.31L631.25 745.64L631.5 752.68L632.25 782.16L632.5 789.2L632.75 792.63L633 791.89L633.25 787.12L634.25 750L634.5 744.29L634.75 742.69L635 745.57L635.25 752.48L636.25 793.6L636.5 799.55L636.75 801.59L637 799.46L637.25 793.43L638.25 752.34L638.5 745.57L638.75 742.92L639 744.86L639.25 751.12L640.25 795.11L640.5 803.47L640.75 808.49L641 809.68L641.25 806.91L641.5 800.45L642.5 756.55L642.75 748.15L643 743.6L643.25 743.62L643.5 748.22L643.75 756.73L644.75 802.97L645 810.94L645.25 815.75L645.5 817.07L645.75 814.81L646 809.13L646.25 800.41L647.25 754.17L647.5 746.6L647.75 743.19L648 744.46L648.25 750.22L648.5 759.65L649.25 796.36L649.75 815.23L650 820.7L650.25 823.21L650.5 822.69L650.75 819.14L651 812.67L651.5 792.27L652.25 756.05L652.5 747.76L652.75 743.5L653 743.88L653.25 748.85L653.5 757.7L654.25 794.49L654.75 815.04L655 821.94L655.25 826.35L655.5 828.32L655.75 827.87L656 825L656.25 819.67L656.5 811.87L657.75 754.03L658 746.5L658.25 743.19L658.5 744.57L658.75 750.44L659 759.97L659.75 797.14L660.25 817.22L660.5 824.04L660.75 828.71L661 831.38L661.25 832.24L661.5 831.33L661.75 828.59L662 823.86L662.25 816.95L662.75 796.75L663.5 759.61L663.75 750.18L664 744.45L664.25 743.22L664.5 746.69L664.75 754.35L665.75 802.36L666.25 820.77L666.5 826.83L666.75 830.98L667 833.52L667.25 834.71L667.5 834.71L667.75 833.53L668 830.99L668.25 826.85L668.75 812.65L670 754.39L670.25 746.71L670.5 743.23L670.75 744.43L671 750.15L671.25 759.57L672.25 807.88L672.75 824.21L673 829.34L673.25 832.8L673.5 834.95L673.75 836.1L674 836.49L674.25 836.18L674.5 835.11L674.75 833.08L675 829.77L675.25 824.83L675.5 817.94L676 797.98L676.75 760.72L677 750.99L677.25 744.83L677.5 743.13L677.75 746.14L678 753.41L679.25 811.69L679.75 826.42L680 830.89L680.25 833.85L680.5 835.69L680.75 836.75L681 837.27L681.25 837.38L681.5 837.14L681.75 836.47L682 835.18L682.25 833.01L682.5 829.59L682.75 824.53L683 817.52L683.5 797.35L684.25 760.14L684.5 750.56L684.75 744.62L685 743.17L685.25 746.42L685.5 753.9L686.5 801.83L687 820.48L687.25 826.71L687.5 831.09L687.75 833.99L688 835.8L688.25 836.86L688.5 837.45L688.75 837.73L689 837.82L689.25 837.75L689.5 837.49L689.75 836.95L690 835.96L690.25 834.25L690.5 831.49L690.75 827.3L691 821.31L691.5 803.13L692.5 755L692.75 747.09L693 743.31L693.25 744.21L693.5 749.66L693.75 758.88L694.75 807.22L695 816.57L695.5 829.09L695.75 832.69L696 835L696.25 836.41L696.5 837.21L696.75 837.65L697 837.87L697.5 837.99L698 837.85L698.25 837.62L698.5 837.16L698.75 836.32L699 834.85L699.25 832.44L699.5 828.72L699.75 823.3L700.25 806.35L701.25 757.99L701.5 749.05L701.75 743.96L702 743.45L702.25 747.6L702.5 755.81L703.75 814.01L704 821.89L704.25 827.72L704.5 831.77L704.75 834.43L705 836.07L705.25 837.02L705.5 837.55L705.75 837.82L706 837.96L706.5 838.05L707 838.04L707.5 837.91L707.75 837.72L708 837.36L708.25 836.67L708.5 835.45L708.75 833.41L709 830.19L709.25 825.4L709.5 818.69L710 799.1L711 751.78L711.25 745.23L711.5 743.09L711.75 745.65L712 752.56L713.25 810.77L713.5 819.39L713.75 825.91L714 830.54L714.25 833.64L714.5 835.59L714.75 836.75L715 837.4L715.25 837.75L715.5 837.92L716 838.04L717.5 838.03L718 837.86L718.25 837.63L718.5 837.17L718.75 836.34L719 834.88L719.25 832.5L719.5 828.8L719.75 823.41L720.25 806.53L721.25 758.18L721.5 749.18L721.75 744.01L722 743.42L722.25 747.49L722.5 755.64L723.75 813.85L724 821.76L724.25 827.63L724.5 831.71L724.75 834.39L725 836.04L725.25 837.01L725.5 837.54L725.75 837.82L726 837.96L726.75 838.06L728.75 838.04L729.25 837.9L729.5 837.71L729.75 837.33L730 836.62L730.25 835.37L730.5 833.28L730.75 829.99L731 825.11L731.5 809.4L732.75 751.36L733 745.02L733.25 743.1L733.5 745.9L733.75 753L734.75 800.72L735.25 819.76L735.5 826.18L735.75 830.73L736 833.76L736.25 835.66L736.5 836.79L736.75 837.42L737 837.76L737.25 837.93L737.75 838.04L739.25 838.07L741 838.04L741.5 837.93L741.75 837.76L742 837.43L742.25 836.79L742.5 835.67L742.75 833.77L743 830.75L743.25 826.21L743.75 811.3L745 753.05L745.25 745.93L745.5 743.11L745.75 745L746 751.32L746.25 761.17L747 798.45L747.5 818.27L747.75 825.08L748 829.97L748.25 833.27L748.5 835.36L748.75 836.62L749 837.33L749.25 837.71L749.5 837.9L749.75 838L750.25 838.06L753.75 838.07L754.5 838.03L755 837.85L755.25 837.6L755.5 837.11L755.75 836.23L756 834.7L756.25 832.21L756.5 828.37L756.75 822.8L757.25 805.53L758.25 757.19L758.5 748.51L758.75 743.75L759 743.61L759.25 748.1L759.5 756.58L760.75 814.69L761.25 828.09L761.5 832.02L761.75 834.58L762 836.16L762.25 837.07L762.5 837.58L762.75 837.84L763 837.96L763.75 838.06L768.5 838.06L769 838.03L769.5 837.85L769.75 837.6L770 837.11L770.25 836.23L770.5 834.71L770.75 832.22L771 828.38L771.25 822.81L771.75 805.55L772.75 757.21L773 748.52L773.25 743.76L773.5 743.6L773.75 748.09L774 756.56L775.25 814.67L775.75 828.08L776 832.02L776.25 834.58L776.5 836.16L776.75 837.07L777 837.57L777.25 837.84L777.5 837.96L778.5 838.07L784 838.07L784.75 838.02L785.25 837.83L785.5 837.57L785.75 837.07L786 836.15L786.25 834.56L786.5 831.99L786.75 828.04L787 822.33L787.5 804.77L788.5 756.47L788.75 748.03L789 743.58L789.25 743.78L789.5 748.58L789.75 757.31L790.5 794.15L791 815.31L791.5 828.42L791.75 832.24L792 834.72L792.25 836.24L792.5 837.12L792.75 837.6L793 837.85L793.25 837.97L794.25 838.07L801 838.07L801.75 838.03L802.25 837.87L802.5 837.65L802.75 837.21L803 836.4L803.25 834.99L803.5 832.67L803.75 829.06L804 823.78L804.5 807.14L805.5 758.8L805.75 749.61L806 744.19L806.25 743.32L806.5 747.13L806.75 755.07L807.75 803.21L808.25 821.36L808.5 827.34L808.75 831.52L809 834.26L809.25 835.97L809.5 836.97L809.75 837.52L810 837.81L810.5 838.02L811.5 838.07L819.75 838.06L820.25 838.03L820.75 837.86L821 837.62L821.25 837.16L821.5 836.31L821.75 834.83L822 832.41L822.25 828.67L822.5 823.23L823 806.23L824 757.88L824.25 748.97L824.5 743.93L824.75 743.47L825 747.67L825.25 755.92L826.25 804.17L826.75 821.96L827 827.77L827.25 831.81L827.5 834.45L827.75 836.08L828 837.03L828.25 837.55L828.5 837.82L829 838.02L830 838.07L839.5 838.07L840.25 838.03L840.75 837.86L841 837.62L841.25 837.17L841.5 836.32L841.75 834.86L842 832.46L842.25 828.75L842.5 823.34L843 806.42L844 758.06L844.25 749.1L844.5 743.98L844.75 743.44L845 747.56L845.25 755.75L846.25 803.98L846.75 821.84L847 827.69L847.25 831.75L847.5 834.41L847.75 836.06L848 837.02L848.25 837.54L848.5 837.82L849 838.02L850 838.07L861 838.07L861.75 838.05L862.25 837.94L862.5 837.78L862.75 837.46L863 836.86L863.25 835.78L863.5 833.95L863.75 831.03L864 826.61L864.25 820.36L864.75 801.64L865.75 753.74L866 746.33L866.25 743.16L866.5 744.69L866.75 750.7L867 760.33L867.75 797.56L868.25 817.66L868.5 824.64L868.75 829.66L869 833.06L869.25 835.24L869.5 836.54L869.75 837.29L870 837.69L870.25 837.89L870.75 838.04L884.25 838.07L885.5 837.99L885.75 837.88L886 837.67L886.25 837.25L886.5 836.48L886.75 835.12L887 832.88L887.25 829.37L887.5 824.23L888 807.89L889 759.58L889.25 750.16L889.5 744.44L889.75 743.23L890 746.71L890.25 754.38L891.25 802.41L891.75 820.85L892 826.97L892.25 831.27L892.5 834.11L892.75 835.87L893 836.91L893.25 837.49L893.5 837.79L894 838.01L895 838.07L977 838.07" stroke="#1be2b4" stroke-width="5.40"/>
<path d="M158 838.07L342.75 838.04L343.25 837.92L343.5 837.77L343.75 837.5L344 837.05L344.25 836.32L344.5 835.23L345 831.63L346.25 817.36L346.5 815.56L346.75 814.81L347 815.22L347.25 816.71L347.5 819.09L348.5 830.9L349 834.81L349.25 836.03L349.5 836.86L349.75 837.38L350 837.7L350.25 837.88L350.75 838.03L352.25 838.07L395 838.07L396 838.02L396.5 837.87L396.75 837.68L397 837.36L397.25 836.81L397.5 835.96L397.75 834.71L398.25 830.73L399.25 818.9L399.5 816.58L399.75 815.15L400 814.83L400.25 815.66L400.5 817.51L401.5 829.27L402 833.81L402.25 835.32L402.5 836.38L402.75 837.09L403 837.52L403.25 837.78L403.75 838L405 838.07L419.75 838.07L420.75 837.97L421.25 837.66L421.5 837.32L421.75 836.76L422 835.88L422.25 834.6L422.75 830.54L423.75 818.7L424 816.43L424.25 815.09L424.5 814.85L424.75 815.77L425 817.69L426 829.48L426.5 833.94L426.75 835.42L427 836.45L427.25 837.13L427.5 837.55L427.75 837.8L428 837.93L428.5 838.04L429 838.06L436 838.04L436.5 837.94L436.75 837.81L437 837.57L437.25 837.17L437.5 836.52L437.75 835.52L438.25 832.15L439.5 817.89L439.75 815.89L440 814.88L440.25 815.02L440.5 816.28L440.75 818.48L441.75 830.33L442.25 834.47L442.5 835.79L442.75 836.7L443 837.29L443.25 837.64L443.5 837.85L444 838.02L444.5 838.06L447.5 838.03L448 837.89L448.25 837.71L448.5 837.41L448.75 836.89L449 836.09L449.25 834.89L449.5 833.22L450 828.37L450.75 819.24L451 816.82L451.25 815.27L451.5 814.81L451.75 815.49L452 817.23L453 828.92L453.5 833.59L453.75 835.16L454 836.27L454.25 837.01L454.5 837.48L454.75 837.76L455.25 837.99L455.75 838.05L456.5 838L457 837.8L457.25 837.56L457.5 837.14L457.75 836.47L458 835.45L458.5 832.02L458.75 829.55L459.75 817.75L460 815.8L460.25 814.86L460.5 815.07L460.75 816.39L461 818.63L462 830.48L462.5 834.56L462.75 835.85L463 836.74L463.25 837.3L463.5 837.62L463.75 837.78L464 837.81L464.25 837.71L464.5 837.47L464.75 837.02L465 836.29L465.25 835.18L465.75 831.55L467 817.28L467.25 815.52L467.5 814.81L467.75 815.25L468 816.78L468.25 819.19L469 828.31L469.5 833.16L469.75 834.8L470 835.93L470.25 836.6L470.5 836.86L470.75 836.74L471 836.22L471.25 835.26L471.5 833.81L472 829.33L473 817.57L473.25 815.69L473.5 814.83L473.75 815.13L474 816.53L474.25 818.83L475 827.86L475.5 832.58L475.75 834.02L476 834.78L476.25 834.84L476.5 834.2L476.75 832.88L477 830.89L478.25 816.86L478.5 815.29L478.75 814.8L479 815.45L479.25 817.15L480.25 828.22L480.5 830.31L480.75 831.62L481 832.03L481.25 831.51L481.5 830.1L481.75 827.93L482.75 816.89L483 815.3L483.25 814.75L483.5 815.34L483.75 816.93L484.75 826.79L485 828.19L485.25 828.63L485.5 828.05L485.75 826.51L486.75 816.62L487 815.12L487.25 814.62L487.5 815.18L487.75 816.67L488.5 823.13L488.75 824.55L489 825.07L489.25 824.59L489.5 823.21L490.25 816.68L490.5 815.08L490.75 814.32L491 814.52L491.25 815.58L492 820.54L492.25 821.44L492.5 821.51L492.75 820.71L493.5 815.63L493.75 814.3L494 813.69L494.25 813.87L494.5 814.73L495 817.21L495.25 818.08L495.5 818.32L495.75 817.85L496.5 814.06L496.75 813.09L497 812.7L497.25 812.91L498 815.09L498.25 815.34L498.5 815.06L498.75 814.32L499.25 812.33L499.5 811.64L499.75 811.37L500 811.53L500.5 812.38L500.75 812.6L501 812.47L501.25 811.98L501.75 810.55L502 810.01L502.25 809.75L502.5 809.77L503 810.08L503.25 810.04L503.5 809.76L504.25 808.26L504.5 807.95L504.75 807.81L505.25 807.74L505.5 807.59L505.75 807.3L506.5 806.1L506.75 805.84L507.5 805.32L507.75 805.05L508.5 803.99L509.5 802.96L511.5 800.43L514.5 796.27L516.5 793.22L519 789.03L521.25 784.87L523.5 780.31L525.5 775.9L527.5 771.1L529.25 766.58L531 761.73L532.75 756.54L534.5 750.99L536.25 745.08L538 738.79L539.75 732.12L542.75 719.83L545.75 706.54L548.75 692.46L554.75 663.46L557.25 651.9L559.5 642.28L561.75 633.73L563.25 628.79L564.5 625.27L565.25 623.53L566.5 621.1L568 617.76L568.5 616.96L568.75 616.68L569.25 616.31L570.5 615.82L571.5 615.67L572 615.71L572.5 615.84L573 616.07L573.5 616.39L574.5 617.29L575.5 618.54L576.5 620.11L577.75 622.5L578.75 624.72L580 627.85L581.25 631.32L582.5 635.08L585.25 644.15L587.75 653.03L594.75 678.65L598.75 692.61L602 703.19L605.25 713L607.5 719.32L609.75 725.25L612 730.82L614.25 736.02L616.5 740.89L619 745.92L621 749.68L623.75 754.49L627.25 760.09L628.25 761.5L629 762.68L630 763.96L630.75 765.15L631.75 766.28L632.75 767.85L633.5 768.49L633.75 768.79L634.5 770.09L634.75 770.4L635.5 770.83L635.75 771.13L636.5 772.56L636.75 772.86L637 772.96L637.5 773.03L637.75 773.28L638.5 774.89L638.75 775.24L639 775.34L639.5 775.15L639.75 775.25L640 775.64L640.75 777.52L641 777.74L641.25 777.64L641.75 777.18L642 777.31L642.25 777.82L642.75 779.44L643 780.02L643.25 780.17L643.5 779.91L644 779.11L644.25 779.15L644.5 779.7L645.25 782.39L645.5 782.63L645.75 782.32L646.25 781.05L646.5 780.81L646.75 781.18L647.5 784.45L647.75 785.07L648 784.99L648.75 782.61L649 782.43L649.25 783.01L650 787L650.25 787.63L650.5 787.42L651.25 784.22L651.5 783.85L651.75 784.38L652.5 789.12L652.75 790.1L653 790.11L653.25 789.19L653.75 786.18L654 785.24L654.25 785.28L654.5 786.37L655.25 792.05L655.5 792.84L655.75 792.47L656 791.1L656.5 787.39L656.75 786.35L657 786.46L657.25 787.78L658 794.47L658.25 795.48L658.5 795.19L658.75 793.69L659.25 789.2L659.5 787.62L659.75 787.24L660 788.26L660.75 795.93L661 797.75L661.25 798.23L661.5 797.24L662.25 789.82L662.5 788.27L662.75 788.15L663 789.57L663.75 798.43L664 800.45L664.25 800.98L664.5 799.9L665.25 791.36L665.5 789.27L665.75 788.69L666 789.8L666.25 792.39L667 802.29L667.25 803.7L667.5 803.37L667.75 801.38L668.5 791.46L668.75 789.54L669 789.34L669.25 790.95L669.5 794.07L670 801.94L670.25 804.98L670.5 806.49L670.75 806.13L671 804L671.75 792.87L672 790.37L672.25 789.62L672.5 790.82L672.75 793.76L673.5 806.13L673.75 808.66L674 809.34L674.25 808.05L674.5 805.05L675.25 792.78L675.5 790.43L675.75 790L676 791.63L676.25 795.01L677 808.45L677.25 811.23L677.5 812.12L677.75 810.95L678 807.96L678.75 794.52L679 791.4L679.25 790.15L679.5 791.03L679.75 793.91L680.75 812.19L681 814.44L681.25 814.66L681.5 812.81L681.75 809.21L682.5 794.76L682.75 791.55L683 790.3L683.25 791.26L683.5 794.27L684.5 813.82L684.75 816.62L685 817.43L685.25 816.15L685.5 812.95L686.5 793.46L686.75 790.92L687 790.53L687.25 792.39L687.5 796.19L688.25 812.36L688.5 816.65L688.75 819.29L689 819.93L689.25 818.5L689.5 815.17L690.5 794.54L690.75 791.45L691 790.48L691.25 791.81L691.5 795.22L692.5 816.79L692.75 820.41L693 822.21L693.25 822L693.5 819.8L693.75 815.85L694.75 794.38L695 791.37L695.25 790.55L695.5 792.03L695.75 795.61L696.75 817.93L697 821.9L697.25 824.17L697.5 824.53L697.75 822.95L698 819.57L699 797.36L699.25 793.14L699.5 790.85L699.75 790.84L700 793.12L700.25 797.36L701.25 820.25L701.5 824.08L701.75 826.26L702 826.63L702.25 825.17L702.5 821.98L703.75 794.63L704 791.5L704.25 790.57L704.5 791.99L704.75 795.53L705.75 818.78L706 823.47L706.25 826.75L706.5 828.42L706.75 828.39L707 826.66L707.25 823.33L708.5 795.38L708.75 791.9L709 790.57L709.25 791.6L709.5 794.82L710.75 823.21L711 827.06L711.25 829.46L711.5 830.33L711.75 829.64L712 827.42L712.25 823.73L713.5 795.32L713.75 791.87L714 790.58L714.25 791.64L714.5 794.9L715.5 818.37L716 827.63L716.25 830.35L716.5 831.69L716.75 831.65L717 830.21L717.25 827.39L717.5 823.25L718.75 794.61L719 791.49L719.25 790.59L719.5 792.05L719.75 795.64L720.75 819.43L721.25 828.55L721.5 831.31L721.75 832.82L722 833.11L722.25 832.18L722.5 830.02L722.75 826.6L723.25 816.37L724 797.96L724.25 793.51L724.5 791L724.75 790.77L725 792.87L725.25 797L726.5 825.95L726.75 829.73L727 832.34L727.25 833.83L727.5 834.26L727.75 833.65L728 831.96L728.25 829.15L728.75 820.1L729.75 796.15L730 792.35L730.25 790.64L730.5 791.28L730.75 794.17L731 798.9L731.75 817.48L732.25 827.56L732.5 831L732.75 833.36L733 834.73L733.25 835.19L733.5 834.78L733.75 833.46L734 831.16L734.25 827.78L734.75 817.8L735.5 799.2L735.75 794.39L736 791.38L736.25 790.61L736.5 792.2L736.75 795.9L737.75 819.84L738.25 829.16L738.5 832.22L738.75 834.29L739 835.49L739.25 835.94L739.5 835.67L739.75 834.66L740 832.81L740.25 829.99L740.75 821.18L741.75 797.06L742 792.91L742.25 790.78L742.5 790.98L742.75 793.47L743 797.9L744 822.08L744.5 830.58L744.75 833.27L745 835.06L745.25 836.1L745.5 836.52L745.75 836.37L746 835.63L746.25 834.2L746.5 831.95L746.75 828.72L747.25 819.12L748.25 795.32L748.5 791.87L748.75 790.58L749 791.65L749.25 794.91L750.5 823.97L751 831.71L751.25 834.08L751.5 835.64L751.75 836.56L752 836.96L752.25 836.92L752.5 836.42L752.75 835.4L753 833.69L753.25 831.14L753.5 827.59L754 817.42L754.75 798.83L755 794.12L755.25 791.26L755.5 790.65L755.75 792.38L756 796.21L757 820.23L757.5 829.45L757.75 832.51L758 834.65L758.25 836.04L758.5 836.86L758.75 837.26L759 837.32L759.25 837.04L759.5 836.38L759.75 835.2L760 833.34L760.25 830.62L760.75 822.11L761.75 797.93L762 793.49L762.25 790.99L762.5 790.78L762.75 792.89L763 797.03L764 821.16L764.5 830.04L764.75 832.94L765 834.94L765.25 836.25L765.5 837.03L765.75 837.44L766 837.58L766.25 837.49L766.5 837.13L766.75 836.41L767 835.21L767.25 833.34L767.5 830.61L768 822.09L769 797.91L769.25 793.48L769.5 790.98L769.75 790.78L770 792.91L770.25 797.05L771.25 821.19L771.75 830.06L772 832.95L772.25 834.96L772.5 836.26L772.75 837.06L773 837.51L773.25 837.72L773.5 837.75L773.75 837.61L774 837.27L774.25 836.61L774.5 835.51L774.75 833.79L775 831.24L775.5 823.14L776.5 799L776.75 794.24L777 791.31L777.25 790.63L777.5 792.3L777.75 796.07L778.75 820.06L779.25 829.34L779.5 832.44L779.75 834.61L780 836.05L780.25 836.94L780.5 837.47L780.75 837.74L781 837.86L781.25 837.87L781.5 837.75L781.75 837.48L782 836.97L782.25 836.09L782.5 834.67L782.75 832.52L783 829.46L783.5 820.24L784.5 796.23L784.75 792.39L785 790.65L785.25 791.25L785.5 794.11L785.75 798.82L786.75 822.97L787.25 831.14L787.5 833.72L787.75 835.47L788 836.59L788.25 837.27L788.5 837.65L788.75 837.85L789 837.94L789.5 837.89L789.75 837.72L790 837.39L790.25 836.8L790.5 835.8L790.75 834.22L791 831.87L791.5 824.22L792.75 795.13L793 791.76L793.25 790.58L793.5 791.75L793.75 795.1L795 824.19L795.5 831.85L795.75 834.21L796 835.79L796.25 836.79L796.5 837.39L796.75 837.72L797 837.9L797.25 837.98L797.75 837.98L798.25 837.75L798.5 837.43L798.75 836.88L799 835.93L799.25 834.43L799.5 832.16L800 824.73L801.25 795.6L801.5 792.02L801.75 790.59L802 791.51L802.25 794.66L803.5 823.66L803.75 828.13L804 831.55L804.25 834L804.5 835.66L804.75 836.71L805 837.34L805.25 837.7L805.5 837.89L805.75 837.98L806.25 838.03L806.75 837.96L807 837.85L807.25 837.62L807.5 837.2L807.75 836.46L808 835.26L808.25 833.41L808.5 830.7L809 822.24L810 798.06L810.25 793.58L810.5 791.02L810.75 790.75L811 792.82L811.25 796.91L812.25 821.03L812.5 826.02L813 832.88L813.25 834.91L813.5 836.24L813.75 837.06L814 837.54L814.25 837.81L814.75 838.01L815.5 838.04L816 837.96L816.25 837.84L816.5 837.6L816.75 837.17L817 836.42L817.25 835.19L817.5 833.29L817.75 830.54L818.25 821.97L819.25 797.8L819.5 793.4L819.75 790.95L820 790.8L820.25 792.98L820.5 797.16L821.5 821.3L821.75 826.24L822.25 833L822.5 834.99L822.75 836.29L823 837.09L823.25 837.56L823.5 837.82L824 838.02L824.75 838.06L825.5 837.99L826 837.73L826.25 837.39L826.5 836.8L826.75 835.81L827 834.24L827.25 831.9L827.75 824.26L829 795.17L829.25 791.78L829.5 790.58L829.75 791.73L830 795.07L831.25 824.15L831.5 828.51L831.75 831.83L832 834.2L832.25 835.78L832.5 836.79L832.75 837.38L833 837.72L833.25 837.9L833.75 838.04L834.75 838.06L835.5 837.99L836 837.73L836.25 837.39L836.5 836.8L836.75 835.81L837 834.24L837.25 831.9L837.75 824.27L839 795.17L839.25 791.79L839.5 790.58L839.75 791.72L840 795.06L841.25 824.14L841.5 828.5L841.75 831.83L842 834.19L842.25 835.78L842.5 836.78L842.75 837.38L843 837.72L843.25 837.9L843.75 838.04L845.75 838.02L846.25 837.85L846.5 837.62L846.75 837.2L847 836.47L847.25 835.28L847.5 833.43L847.75 830.73L848.25 822.29L849.25 798.11L849.5 793.62L849.75 791.04L850 790.75L850.25 792.79L850.5 796.86L851.75 825.97L852 829.92L852.25 832.85L852.5 834.89L852.75 836.23L853 837.06L853.25 837.54L853.5 837.81L854 838.01L854.5 838.06L856 838.06L856.75 837.99L857 837.89L857.25 837.7L857.5 837.34L857.75 836.71L858 835.66L858.25 834.01L858.5 831.57L859 823.69L860.25 794.68L860.5 791.53L860.75 790.59L861 792.01L861.25 795.57L862.5 824.7L862.75 828.95L863 832.15L863.25 834.41L863.5 835.92L863.75 836.87L864 837.43L864.25 837.75L864.5 837.91L865 838.04L867.75 838.03L868.25 837.89L868.5 837.7L868.75 837.34L869 836.71L869.25 835.66L869.5 834.01L869.75 831.56L870.25 823.68L871.5 794.67L871.75 791.52L872 790.59L872.25 792.01L872.5 795.58L873.75 824.71L874 828.96L874.25 832.16L874.5 834.42L874.75 835.93L875 836.87L875.25 837.43L875.5 837.75L876 838L876.5 838.06L879.5 838.02L880 837.86L880.25 837.64L880.5 837.23L880.75 836.52L881 835.36L881.25 833.55L881.5 830.9L882 822.57L883 798.39L883.25 793.81L883.5 791.12L883.75 790.7L884 792.62L884.25 796.6L885.5 825.73L885.75 829.74L886 832.72L886.25 834.81L886.5 836.17L886.75 837.02L887 837.52L887.25 837.79L887.75 838.01L888.25 838.06L891 838.06L891.75 838.01L892.25 837.79L892.5 837.51L892.75 837.01L893 836.15L893.25 834.77L893.5 832.68L894 825.64L894.25 820.58L895.25 796.51L895.5 792.57L895.75 790.69L896 791.15L896.25 793.88L896.5 798.5L897.5 822.67L898 830.96L898.25 833.59L898.5 835.39L898.75 836.54L899 837.24L899.25 837.64L899.5 837.86L900 838.03L901 838.07L977 838.07" stroke="#4486f6" stroke-width="5.40"/>
<path d="M158 838.04L221.75 838L267.5 837.91L303 837.77L331.75 837.55L356.25 837.24L367 837.05L376.75 836.82L386 836.57L394.5 836.28L402.5 835.94L409.75 835.58L417.25 835.14L424.25 834.64L430.75 834.09L436.75 833.49L442.5 832.81L447.75 832.09L453 831.26L457.75 830.39L462.25 829.44L466.75 828.35L470.75 827.24L474.75 825.98L478.5 824.64L482 823.22L485.25 821.75L487 820.88L488.5 820.1L490.25 819.12L491.75 818.24L493.25 817.31L494.75 816.32L496.25 815.28L497.75 814.17L499.25 813.01L500.5 811.98L502 810.68L503.25 809.55L504.5 808.35L505.75 807.09L507 805.77L508.25 804.39L510.5 801.71L511.75 800.11L512.75 798.78L514 797.03L515 795.57L516.25 793.65L517.25 792.04L519.25 788.63L521.25 784.92L523.25 780.9L525.25 776.53L527.25 771.78L529 767.31L530.75 762.51L532.5 757.37L534 752.69L535.75 746.88L537.25 741.61L538.75 736.05L540.5 729.22L541.75 724.11L543.25 717.75L544.75 711.13L546.25 704.29L549 691.29L554.75 663.41L557.25 651.81L558.5 646.33L559.5 642.14L560.75 637.22L561.75 633.56L563 629.38L564.25 625.68L565 623.71L565.5 622.5L566.25 620.86L566.75 619.89L567.5 618.6L568 617.86L568.75 616.94L569.25 616.44L569.75 616.05L570.25 615.75L570.75 615.55L571 615.49L571.5 615.43L572 615.47L572.5 615.61L573 615.84L573.5 616.16L574 616.58L574.5 617.08L575 617.67L575.75 618.71L576.75 620.37L577.25 621.31L578 622.87L579 625.17L580.25 628.38L581.25 631.2L582.25 634.2L583.5 638.18L584.75 642.37L587.25 651.19L593.75 675.06L597 686.65L598.75 692.65L600.5 698.44L602.25 704.02L603.75 708.62L605.5 713.77L607.5 719.36L609.5 724.66L611.5 729.66L613.5 734.37L615.5 738.81L617.5 742.98L619.75 747.39L622 751.51L623.25 753.67L624.5 755.76L627 759.7L629.5 763.36L632 766.76L633.25 768.36L634.75 770.21L636 771.7L637.5 773.41L640.25 776.36L641.75 777.88L643.25 779.34L644.75 780.74L646.25 782.08L649.25 784.61L650.75 785.8L652.5 787.13L655.75 789.46L657.5 790.63L659.25 791.76L661 792.84L663 794.02L666.75 796.09L668.75 797.12L671 798.22L673 799.16L675.25 800.17L677.5 801.13L679.75 802.05L682 802.92L684.5 803.85L689.5 805.57L694.75 807.2L700 808.69L705.75 810.16L711.75 811.55L718 812.86L724.5 814.09L731.25 815.24L738.5 816.36L746 817.41L754 818.42L762.5 819.38L771.25 820.28L780.5 821.13L790.25 821.95L800.5 822.72L811.25 823.44L822.75 824.15L834.75 824.81L847.5 825.44L861 826.04L875 826.61L889.75 827.15L905.5 827.67L922 828.16L939.5 828.63L957.75 829.08L977 829.5" stroke="#f8b83a" stroke-width="4.00"/>
<path d="M166 838.04L227.5 837.99L272 837.9L307 837.74L335 837.52L347.5 837.37L359 837.2L369.5 836.99L379.25 836.76L388.25 836.49L396.5 836.2L404.25 835.86L411.5 835.49L418.75 835.04L425.5 834.54L431.75 833.99L437.75 833.38L443.5 832.68L448.75 831.94L453.75 831.13L458.5 830.24L463 829.27L467.25 828.22L471.25 827.09L475.25 825.81L479 824.45L482.5 823.01L485.75 821.51L487.5 820.62L489 819.82L490.5 818.98L492 818.09L493.5 817.15L495 816.15L496.5 815.1L498 813.98L499.5 812.81L500.75 811.77L502.25 810.46L503.5 809.31L504.75 808.1L506 806.83L507.25 805.5L508.5 804.1L510.75 801.4L512 799.78L513 798.44L514.25 796.67L515.25 795.19L516.5 793.25L517.5 791.63L519.5 788.18L521.5 784.44L523.5 780.37L525.5 775.95L527.25 771.78L529 767.31L530.75 762.51L532.5 757.37L534 752.69L535.75 746.88L537.25 741.61L538.75 736.05L540.5 729.22L541.75 724.11L543.25 717.75L544.75 711.13L546.25 704.29L549 691.29L554.75 663.41L557.25 651.81L558.5 646.33L559.5 642.14L560.75 637.22L561.75 633.56L563 629.38L564.25 625.68L565 623.71L565.5 622.5L566.25 620.86L566.75 619.89L567.5 618.6L568 617.86L568.75 616.94L569.25 616.44L569.75 616.05L570.25 615.75L570.75 615.55L571 615.49L571.5 615.43L572 615.47L572.5 615.61L573 615.84L573.5 616.16L574 616.58L574.5 617.08L575 617.67L575.75 618.71L576.75 620.37L577.25 621.31L578 622.87L579 625.17L580.25 628.38L581.25 631.2L582.25 634.2L583.5 638.18L584.75 642.37L587.25 651.19L593.75 675.06L597 686.65L598.75 692.65L600.5 698.44L602.25 704.02L603.75 708.62L605.5 713.77L607.5 719.36L609.5 724.66L611.5 729.66L613.5 734.37L615.5 738.81L617.5 742.98L619.75 747.39L622 751.51L623.25 753.67L624.5 755.76L627 759.7L629.5 763.36L632 766.76L633.25 768.36L634.75 770.21L636 771.7L637.5 773.41L640.25 776.36L641.75 777.88L643.25 779.34L644.75 780.74L646.25 782.08L649.25 784.61L650.75 785.8L652.5 787.13L655.75 789.46L657.5 790.63L659.25 791.76L661 792.84L663 794.02L666.75 796.09L668.75 797.12L671 798.22L673 799.16L675.25 800.17L677.5 801.13L679.75 802.05L682 802.92L684.5 803.85L689.5 805.57L694.75 807.2L700 808.69L705.75 810.16L711.75 811.55L718 812.86L724.5 814.09L731.25 815.24L738.5 816.36L746 817.41L754 818.42L762.5 819.38L771.25 820.28L780.5 821.13L790.25 821.95L800.5 822.72L811.25 823.44L822.75 824.15L834.75 824.81L847.5 825.44L861 826.04L875 826.61L889.75 827.15L905.5 827.67L922 828.16L939.5 828.63L957.75 829.08L977 829.5" stroke="#000" stroke-opacity="0.82" stroke-width="7.20" stroke-dasharray="26.65 11.52" stroke-dashoffset="35.07"/>
</g>
<g clip-path="url(#cpc)" fill="none" stroke-linejoin="round">
<path d="M158 1260.86L230.25 1260.86L261.75 1260.77L263.75 1260.82L265.5 1260.76L267.5 1260.82L269.5 1260.75L271.5 1260.82L273.75 1260.73L275.75 1260.82L278 1260.71L280.25 1260.82L282.5 1260.69L285 1260.83L287.25 1260.67L289.75 1260.83L292.25 1260.64L294.75 1260.83L297.5 1260.61L300 1260.83L302.75 1260.58L304.75 1260.81L305.5 1260.83L306.25 1260.8L308.25 1260.54L310.25 1260.8L311 1260.84L312 1260.78L313.5 1260.52L314 1260.49L315.75 1260.76L316.75 1260.84L317.75 1260.78L319.75 1260.43L320.25 1260.47L321.75 1260.77L322.75 1260.84L323.75 1260.78L325.75 1260.37L326.25 1260.4L328 1260.79L329 1260.84L330 1260.76L331.5 1260.36L332 1260.29L332.5 1260.34L334 1260.74L335.25 1260.84L336.25 1260.76L338 1260.24L338.5 1260.21L339 1260.29L340.5 1260.75L341.75 1260.84L342.75 1260.75L344.5 1260.15L345 1260.1L345.5 1260.2L347 1260.73L348.25 1260.84L349.5 1260.71L351 1260.09L351.5 1259.98L352 1260.03L353.75 1260.73L355 1260.85L355.75 1260.8L356.25 1260.71L356.75 1260.52L358 1259.89L358.5 1259.83L359 1259.96L360.5 1260.68L361.25 1260.82L362 1260.85L362.75 1260.79L363.25 1260.67L363.75 1260.44L364.75 1259.82L365.25 1259.65L365.5 1259.65L366 1259.82L367 1260.44L367.5 1260.67L368.25 1260.82L369 1260.85L369.75 1260.79L370.25 1260.67L370.75 1260.43L372 1259.56L372.5 1259.44L373 1259.59L374 1260.3L374.5 1260.59L375.25 1260.8L376 1260.85L376.75 1260.81L377.5 1260.62L378 1260.34L379.25 1259.31L379.75 1259.18L380.25 1259.37L381.25 1260.22L381.75 1260.55L382.5 1260.79L383.5 1260.85L384.25 1260.78L385 1260.5L385.5 1260.12L386.5 1259.11L387 1258.88L387.25 1258.9L387.5 1259.02L388.75 1260.23L389.25 1260.57L390 1260.8L390.75 1260.85L391.5 1260.8L392.25 1260.58L392.75 1260.21L394 1258.76L394.25 1258.58L394.5 1258.5L394.75 1258.54L395 1258.7L396.25 1260.14L396.75 1260.53L397.5 1260.79L398.5 1260.85L399.25 1260.76L399.75 1260.57L400 1260.41L400.5 1259.89L401.5 1258.46L401.75 1258.2L402 1258.07L402.25 1258.06L402.5 1258.2L402.75 1258.45L403.75 1259.88L404.25 1260.4L404.5 1260.57L405 1260.76L406 1260.85L407 1260.73L407.5 1260.48L407.75 1260.27L408.25 1259.63L409.25 1257.92L409.5 1257.63L409.75 1257.5L410 1257.53L410.25 1257.72L410.5 1258.05L411.5 1259.77L412 1260.36L412.25 1260.54L412.75 1260.75L413.75 1260.85L414.75 1260.72L415.25 1260.45L415.5 1260.21L416 1259.47L417 1257.41L417.25 1257.04L417.5 1256.84L417.75 1256.83L418 1257.02L418.25 1257.38L419.25 1259.45L419.75 1260.2L420 1260.44L420.5 1260.71L421 1260.82L421.75 1260.84L422.25 1260.8L422.75 1260.65L423.25 1260.26L423.75 1259.5L425 1256.49L425.25 1256.11L425.5 1255.96L425.75 1256.05L426 1256.37L427.25 1259.37L427.75 1260.18L428 1260.44L428.5 1260.72L429.5 1260.85L430 1260.82L430.5 1260.71L431 1260.4L431.25 1260.12L431.75 1259.18L433 1255.52L433.25 1255.08L433.5 1254.9L433.75 1255.02L434 1255.42L435.25 1259.07L435.75 1260.05L436 1260.36L436.5 1260.69L437 1260.82L437.75 1260.84L438.25 1260.78L438.75 1260.58L439.25 1260.07L439.5 1259.62L440 1258.25L441 1254.55L441.25 1253.92L441.5 1253.6L441.75 1253.64L442 1254.03L442.25 1254.71L443.25 1258.43L443.75 1259.73L444 1260.15L444.5 1260.62L445 1260.79L445.75 1260.84L446.25 1260.8L446.75 1260.62L447.25 1260.14L447.5 1259.69L448 1258.25L449.25 1252.74L449.5 1252.11L449.75 1251.88L450 1252.1L450.25 1252.74L451.5 1258.24L452 1259.69L452.25 1260.13L452.75 1260.62L453.25 1260.8L454 1260.84L454.5 1260.78L455 1260.55L455.25 1260.3L455.5 1259.91L455.75 1259.34L456.25 1257.49L457.5 1250.68L457.75 1249.94L458 1249.72L458.25 1250.05L458.5 1250.89L459.75 1257.72L460.25 1259.47L460.5 1260L460.75 1260.36L461 1260.58L461.5 1260.79L462.25 1260.83L462.75 1260.76L463.25 1260.5L463.5 1260.21L463.75 1259.76L464 1259.08L464.5 1256.86L465.75 1248.31L466 1247.3L466.25 1246.92L466.5 1247.24L466.75 1248.2L468 1256.72L468.5 1259L468.75 1259.71L469 1260.18L469.25 1260.48L469.75 1260.76L470.5 1260.83L471 1260.77L471.25 1260.67L471.5 1260.5L471.75 1260.2L472 1259.71L472.25 1258.97L472.5 1257.9L473 1254.61L474 1245.67L474.25 1244.13L474.5 1243.34L474.75 1243.41L475 1244.34L475.25 1245.98L476.25 1254.94L476.5 1256.71L477 1259.11L477.25 1259.81L477.5 1260.26L477.75 1260.53L478.25 1260.78L479 1260.82L479.5 1260.7L479.75 1260.54L480 1260.25L480.25 1259.77L480.5 1259.02L480.75 1257.9L481.25 1254.25L482.5 1240.51L482.75 1238.94L483 1238.42L483.25 1239L483.5 1240.61L484.75 1254.37L485.25 1257.96L485.5 1259.07L485.75 1259.8L486 1260.27L486.25 1260.55L486.5 1260.7L487.25 1260.82L487.75 1260.73L488 1260.6L488.25 1260.35L488.5 1259.93L488.75 1259.22L489 1258.12L489.25 1256.51L489.75 1251.44L490.75 1236.7L491 1233.9L491.25 1232.25L491.5 1231.98L491.75 1233.14L492 1235.56L493 1250.24L493.25 1253.32L493.75 1257.59L494 1258.87L494.25 1259.7L494.5 1260.22L494.75 1260.53L495 1260.69L495.25 1260.78L495.75 1260.81L496.25 1260.67L496.5 1260.47L496.75 1260.12L497 1259.5L497.25 1258.49L497.5 1256.95L497.75 1254.71L498.25 1247.78L499.25 1228.55L499.5 1225.13L499.75 1223.29L500 1223.29L500.25 1225.14L500.75 1233.07L501.5 1247.79L501.75 1251.66L502.25 1256.95L502.5 1258.49L502.75 1259.5L503 1260.12L503.25 1260.47L503.5 1260.67L503.75 1260.76L504.25 1260.79L504.75 1260.58L505 1260.3L505.25 1259.8L505.5 1258.92L505.75 1257.51L506 1255.36L506.25 1252.27L506.75 1242.84L507.75 1217.46L508 1213.17L508.25 1211.03L508.5 1211.35L508.75 1214.08L509 1218.82L510 1244.27L510.25 1249.27L510.75 1255.99L511 1257.93L511.25 1259.19L511.5 1259.95L511.75 1260.39L512 1260.63L512.25 1260.74L512.75 1260.75L513 1260.66L513.25 1260.45L513.5 1260.05L513.75 1259.31L514 1258.07L514.25 1256.07L514.5 1253.04L514.75 1248.72L515.25 1235.71L516.25 1201.84L516.5 1196.44L516.75 1193.98L517 1194.83L517.25 1198.87L517.5 1205.51L518.5 1239.58L519 1251.1L519.25 1254.73L519.5 1257.2L519.75 1258.78L520 1259.74L520.25 1260.28L520.5 1260.57L520.75 1260.71L521 1260.74L521.25 1260.7L521.5 1260.55L521.75 1260.22L522 1259.6L522.25 1258.49L522.5 1256.62L522.75 1253.66L523 1249.23L523.5 1234.76L524.75 1179.17L525 1172.6L525.25 1170.16L525.5 1172.23L525.75 1178.5L527 1234L527.5 1248.79L527.75 1253.36L528 1256.43L528.25 1258.37L528.5 1259.53L528.75 1260.18L529 1260.52L529.25 1260.66L529.5 1260.68L529.75 1260.58L530 1260.3L530.25 1259.74L530.5 1258.68L530.75 1256.85L531 1253.82L531.25 1249.12L531.5 1242.23L532 1220.57L533 1157.73L533.25 1145.81L533.5 1138.81L533.75 1137.72L534 1142.72L534.25 1153.06L535.25 1215.66L535.5 1228.78L536 1246.96L536.25 1252.38L536.5 1255.94L536.75 1258.14L537 1259.43L537.25 1260.13L537.5 1260.48L537.75 1260.6L538 1260.54L538.25 1260.27L538.5 1259.69L538.75 1258.55L539 1256.52L539.25 1253.11L539.5 1247.69L539.75 1239.58L540.25 1213.04L541.5 1110.72L541.75 1098.53L542 1093.95L542.25 1097.65L542.5 1109.09L543.75 1211.2L544.25 1238.52L544.5 1246.96L544.75 1252.64L545 1256.23L545.25 1258.38L545.5 1259.58L545.75 1260.2L546 1260.44L546.25 1260.41L546.5 1260.09L546.75 1259.35L547 1257.89L547.25 1255.28L547.5 1250.88L547.75 1243.86L548 1233.34L548.5 1198.8L549.75 1064.24L550 1047.89L550.25 1041.48L550.5 1045.95L550.75 1060.65L552 1194.75L552.5 1231.01L552.75 1242.25L553 1249.83L553.25 1254.64L553.5 1257.52L553.75 1259.13L554 1259.94L554.25 1260.25L554.5 1260.17L554.75 1259.66L555 1258.5L555.25 1256.31L555.5 1252.45L555.75 1246.05L556 1236.06L556.25 1221.36L556.75 1174.67L557.75 1036.39L558 1009.36L558.25 992.89L558.5 989.33L558.75 999.21L559 1021.09L560 1158.55L560.5 1211.43L560.75 1228.99L561 1241.32L561.25 1249.47L561.5 1254.54L561.75 1257.5L562 1259.12L562.25 1259.88L562.5 1260.07L562.75 1259.76L563 1258.82L563.25 1256.9L563.5 1253.41L563.75 1247.49L564 1238L564.25 1223.69L564.5 1203.39L565 1142.7L566 987.56L566.25 963.61L566.5 953.4L566.75 958.43L567 977.95L567.25 1009.18L568.25 1165.49L568.75 1217.44L569 1233.69L569.25 1244.69L569.5 1251.7L569.75 1255.92L570 1258.29L570.25 1259.5L570.5 1259.97L570.75 1259.89L571 1259.22L571.25 1257.7L571.5 1254.84L571.75 1249.86L572 1241.7L572.25 1229.12L572.5 1210.87L573 1154.16L574 994.91L574.25 966.15L574.5 950.29L574.75 949.6L575 964.21L575.25 991.98L576.25 1151.07L576.75 1208.97L577 1227.77L577.25 1240.8L577.5 1249.29L577.75 1254.51L578 1257.52L578.25 1259.15L578.5 1259.91L578.75 1260.09L579 1259.79L579.25 1258.87L579.5 1257.01L579.75 1253.64L580 1247.92L580.25 1238.79L580.5 1225.08L581 1179.94L582.25 1002.61L582.5 980.72L582.75 971.87L583 977.35L583.25 996.36L584.5 1172.88L585 1221.01L585.25 1235.99L585.5 1246.1L585.75 1252.53L586 1256.38L586.25 1258.55L586.5 1259.68L586.75 1260.18L587 1260.25L587.25 1259.91L587.5 1259.05L587.75 1257.34L588 1254.27L588.25 1249.1L588.5 1240.9L588.75 1228.63L589.25 1188.62L590.5 1035.35L590.75 1017.32L591 1010.73L591.25 1016.56L591.5 1033.94L592.75 1187.03L593.25 1227.72L593.5 1240.27L593.75 1248.69L594 1254.02L594.25 1257.2L594.5 1258.99L594.75 1259.92L595 1260.34L595.25 1260.41L595.5 1260.2L595.75 1259.59L596 1258.36L596.25 1256.13L596.5 1252.31L596.75 1246.15L597 1236.82L597.5 1205.6L597.75 1183.17L598.75 1077.18L599 1059.99L599.25 1051.95L599.5 1054.23L599.75 1066.51L600 1087.02L601 1193.53L601.5 1229.87L601.75 1241.36L602 1249.19L602.25 1254.22L602.5 1257.27L602.75 1259L603 1259.93L603.25 1260.38L603.5 1260.53L603.75 1260.46L604 1260.12L604.25 1259.4L604.5 1258.02L604.75 1255.59L605 1251.57L605.25 1245.28L605.5 1236L606 1206.45L607 1118.27L607.25 1100.85L607.5 1090.11L607.75 1087.58L608 1093.62L608.25 1107.37L609.25 1194.96L609.75 1228.92L610 1240.24L610.25 1248.2L610.5 1253.47L610.75 1256.76L611 1258.69L611.25 1259.76L611.5 1260.32L611.75 1260.56L612 1260.6L612.25 1260.47L612.5 1260.1L612.75 1259.35L613 1257.96L613.25 1255.58L613.5 1251.69L613.75 1245.72L614.25 1225.38L614.5 1210.49L615.5 1137.1L615.75 1124.21L616 1117.37L616.25 1117.57L616.5 1124.79L616.75 1137.97L617.75 1211.4L618 1226.11L618.5 1246.12L618.75 1251.95L619 1255.74L619.25 1258.06L619.5 1259.41L619.75 1260.13L620 1260.5L620.25 1260.64L620.5 1260.64L620.75 1260.48L621 1260.1L621.25 1259.37L621.5 1258.03L621.75 1255.76L622 1252.11L622.25 1246.59L622.5 1238.73L623 1215.1L624 1153.82L624.25 1144.11L624.5 1139.76L624.75 1141.41L625 1148.8L625.25 1160.89L626.25 1222.55L626.75 1243.32L627 1249.85L627.25 1254.29L627.5 1257.13L627.75 1258.85L628 1259.83L628.25 1260.35L628.5 1260.6L628.75 1260.69L629 1260.65L629.25 1260.48L629.5 1260.1L629.75 1259.37L630 1258.07L630.25 1255.89L630.5 1252.44L630.75 1247.29L631.25 1230.58L632.5 1167.41L632.75 1160.16L633 1157.68L633.25 1160.31L633.5 1167.68L634.75 1230.89L635.25 1247.47L635.5 1252.56L635.75 1255.97L636 1258.12L636.25 1259.4L636.5 1260.12L636.75 1260.49L637 1260.66L637.25 1260.71L637.5 1260.65L637.75 1260.46L638 1260.05L638.25 1259.3L638.5 1257.98L638.75 1255.81L639 1252.43L639.5 1240.68L639.75 1231.9L640.75 1186.64L641 1178.03L641.25 1172.96L641.5 1172.15L641.75 1175.72L642 1183.15L643 1228.23L643.25 1237.7L643.75 1250.82L644 1254.73L644.25 1257.3L644.5 1258.9L644.75 1259.83L645 1260.34L645.25 1260.6L645.5 1260.71L645.75 1260.72L646 1260.62L646.25 1260.39L646.5 1259.93L646.75 1259.09L647 1257.67L647.25 1255.38L647.5 1251.9L647.75 1246.93L648.25 1231.95L649.25 1192.68L649.5 1186.35L649.75 1183.42L650 1184.31L650.25 1188.91L650.5 1196.54L651.5 1236.02L652 1249.44L652.25 1253.68L652.5 1256.57L652.75 1258.42L653 1259.54L653.25 1260.18L653.5 1260.52L653.75 1260.68L654 1260.73L654.25 1260.69L654.5 1260.55L654.75 1260.25L655 1259.67L655.25 1258.66L655.5 1257L655.75 1254.42L656.25 1245.42L656.5 1238.69L657.5 1203.87L657.75 1197.21L658 1193.26L658.25 1192.59L658.5 1195.29L658.75 1200.96L659.75 1235.63L660 1242.94L660.5 1253.08L660.75 1256.11L661 1258.1L661.25 1259.34L661.5 1260.06L661.75 1260.45L662 1260.65L662.25 1260.73L662.5 1260.72L662.75 1260.62L663 1260.39L663.25 1259.95L663.5 1259.16L663.75 1257.84L664 1255.76L664.25 1252.66L664.75 1242.65L666 1205.38L666.25 1201.24L666.5 1199.92L666.75 1201.63L667 1206.11L668.25 1243.47L668.75 1253.13L669 1256.08L669.25 1258.05L669.5 1259.29L669.75 1260.02L670 1260.43L670.25 1260.64L670.5 1260.73L670.75 1260.73L671 1260.65L671.25 1260.44L671.5 1260.05L671.75 1259.34L672 1258.16L672.25 1256.3L672.5 1253.52L673 1244.56L674.25 1211.07L674.5 1207.32L674.75 1206.11L675 1207.62L675.25 1211.62L676.5 1245.19L677 1253.89L677.25 1256.55L677.5 1258.32L677.75 1259.44L678 1260.1L678.25 1260.47L678.5 1260.66L678.75 1260.73L679 1260.73L679.25 1260.63L679.5 1260.41L679.75 1260L680 1259.27L680.25 1258.06L680.5 1256.19L680.75 1253.45L681.25 1244.79L682.25 1219.56L682.5 1214.75L682.75 1211.89L683 1211.41L683.25 1213.37L683.5 1217.49L684.5 1242.61L685 1252.1L685.25 1255.23L685.5 1257.42L685.75 1258.86L686 1259.76L686.25 1260.28L686.5 1260.56L686.75 1260.7L687 1260.74L687.25 1260.7L687.5 1260.56L687.75 1260.28L688 1259.76L688.25 1258.89L688.5 1257.49L688.75 1255.38L689 1252.38L689.5 1243.45L690.5 1220.69L690.75 1217.2L691 1215.72L691.25 1216.49L691.5 1219.38L691.75 1223.98L692.75 1246.92L693.25 1254.52L693.5 1256.9L693.75 1258.51L694 1259.53L694.25 1260.14L694.5 1260.49L694.75 1260.66L695 1260.73L695.25 1260.71L695.5 1260.61L695.75 1260.37L696 1259.94L696.25 1259.2L696.5 1258L696.75 1256.17L697.25 1250.05L697.5 1245.64L698.5 1224.66L698.75 1221.21L699 1219.57L699.25 1219.96L699.5 1222.33L699.75 1226.35L700.75 1247.42L701.25 1254.66L701.5 1256.95L701.75 1258.52L702 1259.53L702.25 1260.14L702.5 1260.48L702.75 1260.66L703 1260.72L703.25 1260.7L703.5 1260.59L703.75 1260.35L704 1259.91L704.25 1259.16L704.5 1257.95L704.75 1256.15L705.25 1250.19L706.5 1226.8L706.75 1223.91L707 1222.74L707.25 1223.46L707.5 1225.97L708.75 1249.25L709.25 1255.6L709.5 1257.58L709.75 1258.91L710 1259.76L710.25 1260.27L710.5 1260.55L710.75 1260.68L711 1260.72L711.25 1260.66L711.5 1260.5L711.75 1260.19L712 1259.64L712.25 1258.73L712.5 1257.32L712.75 1255.28L713.25 1248.92L714.25 1230.96L714.5 1227.69L714.75 1225.86L715 1225.74L715.25 1227.35L715.5 1230.46L716.5 1248.39L717 1254.95L717.25 1257.09L717.5 1258.57L717.75 1259.54L718 1260.13L718.25 1260.47L718.5 1260.64L718.75 1260.7L719 1260.67L719.25 1260.54L719.5 1260.26L719.75 1259.76L720 1258.94L720.25 1257.67L720.5 1255.81L721 1249.98L722 1233.3L722.25 1230.19L722.5 1228.41L722.75 1228.2L723 1229.61L723.25 1232.42L724.25 1249.06L724.75 1255.24L725 1257.26L725.25 1258.67L725.5 1259.59L725.75 1260.16L726 1260.48L726.25 1260.64L726.5 1260.69L726.75 1260.64L727 1260.48L727.25 1260.16L727.5 1259.61L727.75 1258.71L728 1257.34L728.25 1255.39L728.75 1249.49L729.75 1234.03L730 1231.53L730.25 1230.37L730.5 1230.72L730.75 1232.53L731 1235.53L732 1251.07L732.5 1256.36L732.75 1258.03L733 1259.17L733.25 1259.89L733.5 1260.33L733.75 1260.56L734 1260.66L734.25 1260.66L734.5 1260.54L734.75 1260.28L735 1259.82L735.25 1259.06L735.5 1257.88L735.75 1256.18L736.25 1250.94L737.25 1236.41L737.5 1233.85L737.75 1232.48L738 1232.5L738.25 1233.91L738.5 1236.51L739.5 1251.04L740 1256.25L740.25 1257.93L740.5 1259.09L740.75 1259.84L741 1260.29L741.25 1260.54L741.5 1260.64L741.75 1260.63L742 1260.51L742.25 1260.23L742.5 1259.74L742.75 1258.94L743 1257.73L743.25 1256.01L743.75 1250.81L744.75 1237.28L745 1235.12L745.25 1234.15L745.5 1234.49L745.75 1236.11L746 1238.76L747 1252.37L747.5 1256.97L747.75 1258.42L748 1259.4L748.25 1260.02L748.5 1260.39L748.75 1260.57L749 1260.63L749.25 1260.56L749.5 1260.35L749.75 1259.96L750 1259.3L750.25 1258.29L750.5 1256.81L751 1252.24L752 1239.45L752.25 1237.16L752.5 1235.91L752.75 1235.88L753 1237.07L753.25 1239.32L754.25 1252.1L754.75 1256.73L755 1258.23L755.25 1259.26L755.5 1259.93L755.75 1260.33L756 1260.54L756.25 1260.6L756.5 1260.53L756.75 1260.31L757 1259.9L757.25 1259.22L757.5 1258.18L757.75 1256.69L758.25 1252.16L759.25 1240.18L759.5 1238.21L759.75 1237.27L760 1237.5L760.25 1238.86L760.5 1241.16L761.5 1253.19L762 1257.32L762.25 1258.63L762.5 1259.52L762.75 1260.08L763 1260.4L763.25 1260.54L763.5 1260.54L763.75 1260.39L764 1260.07L764.25 1259.51L764.5 1258.63L764.75 1257.34L765.25 1253.33L766.25 1241.99L766.5 1239.92L766.75 1238.76L767 1238.68L767.25 1239.69L767.5 1241.65L768.5 1252.97L769 1257.12L769.25 1258.47L769.5 1259.4L769.75 1260L770 1260.34L770.25 1260.5L770.5 1260.5L770.75 1260.34L771 1259.99L771.25 1259.39L771.5 1258.46L771.75 1257.14L772.25 1253.1L773.25 1242.45L773.5 1240.7L773.75 1239.88L774 1240.09L774.25 1241.3L774.5 1243.35L775.5 1254.05L776 1257.72L776.25 1258.88L776.5 1259.66L776.75 1260.14L777 1260.39L777.25 1260.47L777.5 1260.37L777.75 1260.09L778 1259.58L778.25 1258.77L778.5 1257.58L779 1253.92L780 1243.81L780.25 1242.04L780.5 1241.1L780.75 1241.13L781 1242.12L781.25 1243.94L782.25 1254.05L782.75 1257.66L783 1258.82L783.25 1259.61L783.5 1260.1L783.75 1260.35L784 1260.41L784.25 1260.28L784.5 1259.95L784.75 1259.37L785 1258.47L785.25 1257.19L785.75 1253.4L786.75 1243.98L787 1242.6L787.25 1242.07L787.5 1242.48L787.75 1243.76L788.75 1253.11L789.25 1257L789.5 1258.32L789.75 1259.26L790 1259.87L790.25 1260.22L790.5 1260.34L790.75 1260.26L791 1259.97L791.25 1259.44L791.5 1258.59L791.75 1257.39L792.25 1253.8L793.25 1244.88L793.5 1243.57L793.75 1243.08L794 1243.46L794.25 1244.67L795.25 1253.52L795.75 1257.2L796 1258.45L796.25 1259.33L796.5 1259.89L796.75 1260.19L797 1260.26L797.25 1260.1L797.5 1259.72L797.75 1259.05L798 1258.05L798.5 1254.94L799.5 1246.38L799.75 1244.89L800 1244.1L800.25 1244.15L800.5 1245L800.75 1246.55L801.75 1255.12L802.25 1258.16L802.5 1259.11L802.75 1259.73L803 1260.07L803.25 1260.16L803.5 1260.02L803.75 1259.62L804 1258.93L804.25 1257.91L804.75 1254.8L805.75 1246.75L806 1245.48L806.25 1244.92L806.5 1245.16L806.75 1246.14L807 1247.74L807.75 1253.99L808.25 1257.37L808.5 1258.53L808.75 1259.34L809 1259.83L809.25 1260.04L809.5 1260L809.75 1259.69L810 1259.09L810.25 1258.18L810.75 1255.31L811.75 1247.65L812 1246.39L812.25 1245.78L812.5 1245.92L812.75 1246.78L813 1248.24L813.75 1254.14L814.25 1257.4L814.5 1258.53L814.75 1259.31L815 1259.76L815.25 1259.93L815.5 1259.82L815.75 1259.42L816 1258.72L816.25 1257.68L816.75 1254.64L817.5 1249.04L817.75 1247.62L818 1246.75L818.25 1246.56L818.5 1247.08L818.75 1248.23L819.75 1255.46L820.25 1258.19L820.5 1259.05L820.75 1259.57L821 1259.78L821.25 1259.69L821.5 1259.3L821.75 1258.59L822.25 1256.19L823.25 1249.31L823.5 1248.07L823.75 1247.39L824 1247.37L824.25 1248.01L824.5 1249.22L825.25 1254.45L825.75 1257.46L826 1258.5L826.25 1259.2L826.5 1259.56L826.75 1259.6L827 1259.32L827.25 1258.72L827.5 1257.78L828 1255L828.75 1250.02L829 1248.81L829.25 1248.13L829.5 1248.06L829.75 1248.63L830 1249.74L831 1256.23L831.25 1257.53L831.5 1258.5L831.75 1259.13L832 1259.42L832.25 1259.37L832.5 1258.97L832.75 1258.24L833.25 1255.84L834.25 1249.82L834.5 1248.98L834.75 1248.7L835 1249.03L835.25 1249.91L836.5 1257.25L836.75 1258.25L837 1258.91L837.25 1259.21L837.5 1259.15L837.75 1258.74L838 1257.99L838.5 1255.58L839.25 1251.14L839.5 1250.07L839.75 1249.46L840 1249.41L840.25 1249.92L840.5 1250.92L841.25 1255.29L841.75 1257.75L842 1258.52L842.25 1258.93L842.5 1258.97L842.75 1258.64L843 1257.96L843.5 1255.69L844.25 1251.55L844.5 1250.57L844.75 1250.05L845 1250.06L845.25 1250.6L845.5 1251.58L846.5 1256.94L846.75 1257.89L847 1258.5L847.25 1258.74L847.5 1258.6L847.75 1258.09L848 1257.24L849 1252.22L849.25 1251.25L849.5 1250.7L849.75 1250.63L850 1251.07L850.25 1251.94L851 1255.76L851.5 1257.79L851.75 1258.32L852 1258.47L852.25 1258.24L852.5 1257.64L852.75 1256.72L853.75 1252.09L854 1251.42L854.25 1251.18L854.5 1251.42L854.75 1252.1L855.75 1256.64L856 1257.5L856.25 1258.03L856.5 1258.17L856.75 1257.94L857 1257.34L858 1253.13L858.25 1252.3L858.5 1251.82L858.75 1251.78L859 1252.18L859.25 1252.95L860.25 1257.05L860.5 1257.64L860.75 1257.86L861 1257.71L861.25 1257.2L862.25 1253.4L862.5 1252.68L862.75 1252.32L863 1252.36L863.25 1252.8L864.25 1256.45L864.5 1257.13L864.75 1257.5L865 1257.5L865.25 1257.14L865.5 1256.49L866.25 1253.82L866.5 1253.17L866.75 1252.83L867 1252.87L867.25 1253.27L868.25 1256.48L868.5 1257.01L868.75 1257.22L869 1257.08L869.25 1256.63L870.25 1253.72L870.5 1253.36L870.75 1253.32L871 1253.62L871.25 1254.2L872 1256.34L872.25 1256.77L872.5 1256.89L872.75 1256.71L873 1256.26L873.75 1254.32L874 1253.9L874.25 1253.76L874.5 1253.92L874.75 1254.33L875.5 1256.12L875.75 1256.48L876 1256.59L876.25 1256.42L876.5 1256.02L877.25 1254.48L877.5 1254.22L877.75 1254.21L878 1254.45L878.75 1255.85L879 1256.19L879.25 1256.31L879.5 1256.2L880.5 1254.73L880.75 1254.57L881 1254.62L881.25 1254.86L882 1255.9L882.25 1256.06L882.5 1256.03L882.75 1255.84L883.5 1255L883.75 1254.89L884 1254.95L885 1255.82L885.25 1255.87L885.5 1255.79L886.25 1255.24L886.5 1255.16L886.75 1255.19L887.75 1255.72L888 1255.73L889 1255.36L889.25 1255.36L890.25 1255.65L891.5 1255.49L892.5 1255.62L893.75 1255.57L899.25 1255.71L899.75 1255.79L900.25 1255.96L900.75 1256.3L901 1256.56L901.5 1257.26L902.75 1259.45L903.5 1260.34L903.75 1260.52L904.25 1260.73L905 1260.84L977 1260.86" stroke="#1be2b4" stroke-width="5.40"/>
<path d="M158 1260.86L230.25 1260.86L317.75 1260.69L319.25 1260.64L320.75 1260.68L322.25 1260.63L323.75 1260.68L325.25 1260.61L327 1260.66L328.25 1260.59L330 1260.66L331.5 1260.57L333 1260.65L334.5 1260.55L336.25 1260.64L337.75 1260.53L339.5 1260.62L341 1260.5L342.75 1260.61L344.25 1260.48L346 1260.6L347.5 1260.45L349.25 1260.59L351 1260.42L352.5 1260.57L354.25 1260.38L356 1260.56L357.75 1260.35L359.25 1260.54L361 1260.31L362.75 1260.52L364.5 1260.26L366.25 1260.5L366.75 1260.46L368 1260.21L368.5 1260.24L369.5 1260.46L370 1260.48L371.25 1260.2L371.75 1260.16L373 1260.42L373.5 1260.46L374.75 1260.16L375.25 1260.1L377 1260.44L377.5 1260.37L378.75 1260.04L379.25 1260.08L380.25 1260.37L380.75 1260.41L381.25 1260.3L382 1260.04L382.5 1259.96L383 1260.04L383.75 1260.3L384.25 1260.38L384.75 1260.31L385.75 1259.94L386.25 1259.89L386.75 1260L387.5 1260.28L388 1260.35L388.5 1260.26L389.25 1259.93L389.75 1259.8L390.25 1259.85L391.25 1260.25L391.75 1260.32L392.25 1260.2L393 1259.85L393.5 1259.71L394 1259.77L395 1260.2L395.5 1260.28L396 1260.16L396.75 1259.76L397.25 1259.6L397.75 1259.66L398.75 1260.15L399.25 1260.24L399.75 1260.12L400.75 1259.57L401.25 1259.48L401.75 1259.64L402.5 1260.07L403 1260.2L403.5 1260.09L404.5 1259.48L405 1259.35L405.5 1259.49L406.5 1260.08L407 1260.15L407.5 1259.94L408.25 1259.41L408.75 1259.22L409.25 1259.31L410.25 1259.97L410.75 1260.1L411.25 1259.94L412.25 1259.19L412.75 1259.05L413.25 1259.24L414.25 1259.96L414.5 1260.04L414.75 1260.04L415.25 1259.79L416 1259.14L416.5 1258.89L416.75 1258.89L417 1258.99L418 1259.79L418.5 1259.98L418.75 1259.95L419 1259.83L420 1258.91L420.25 1258.75L420.5 1258.68L420.75 1258.72L421 1258.85L422 1259.74L422.25 1259.88L422.5 1259.91L422.75 1259.85L423 1259.7L424 1258.68L424.25 1258.52L424.5 1258.47L424.75 1258.53L425 1258.69L426 1259.68L426.25 1259.81L426.5 1259.84L426.75 1259.75L427 1259.57L428 1258.44L428.25 1258.27L428.5 1258.22L428.75 1258.3L429 1258.49L430 1259.59L430.25 1259.73L430.5 1259.75L430.75 1259.65L431 1259.44L432 1258.18L432.25 1258L432.5 1257.95L432.75 1258.04L433 1258.25L434 1259.47L434.25 1259.63L434.5 1259.66L434.75 1259.55L435 1259.32L436 1257.93L436.25 1257.72L436.5 1257.65L436.75 1257.73L437 1257.95L438 1259.31L438.25 1259.5L438.5 1259.56L438.75 1259.46L439 1259.22L440 1257.67L440.25 1257.41L440.5 1257.31L440.75 1257.37L441 1257.59L442 1259.11L442.25 1259.35L442.5 1259.44L442.75 1259.37L443 1259.14L444 1257.41L444.25 1257.09L444.5 1256.93L444.75 1256.96L445 1257.16L446 1258.84L446.25 1259.15L446.5 1259.3L446.75 1259.27L447 1259.06L447.25 1258.7L448.25 1256.78L448.5 1256.53L448.75 1256.49L449 1256.66L449.25 1257.01L450.25 1258.88L450.5 1259.11L450.75 1259.16L451 1259L451.25 1258.65L452.25 1256.48L452.5 1256.13L452.75 1255.99L453 1256.08L453.25 1256.4L454.25 1258.51L454.5 1258.85L454.75 1259L455 1258.92L455.25 1258.62L456.5 1255.75L456.75 1255.48L457 1255.45L457.25 1255.69L457.5 1256.14L458.25 1258L458.5 1258.48L458.75 1258.76L459 1258.8L459.25 1258.59L459.5 1258.15L460.5 1255.43L460.75 1254.98L461 1254.8L461.25 1254.91L461.5 1255.29L462.5 1257.94L462.75 1258.39L463 1258.59L463.25 1258.52L463.5 1258.18L463.75 1257.59L464.75 1254.56L465 1254.16L465.25 1254.08L465.5 1254.32L465.75 1254.85L466.75 1257.83L467 1258.24L467.25 1258.36L467.5 1258.17L467.75 1257.68L468.75 1254.26L469 1253.61L469.25 1253.27L469.5 1253.3L469.75 1253.69L470 1254.37L470.75 1257L471 1257.66L471.25 1258.03L471.5 1258.06L471.75 1257.75L472 1257.11L473 1253.21L473.25 1252.57L473.5 1252.29L473.75 1252.43L474 1252.96L475 1256.75L475.25 1257.42L475.5 1257.75L475.75 1257.69L476 1257.25L476.25 1256.46L477.25 1252.06L477.5 1251.41L477.75 1251.19L478 1251.44L478.25 1252.12L479.25 1256.42L479.5 1257.11L479.75 1257.4L480 1257.26L480.25 1256.69L480.5 1255.73L481.5 1250.77L481.75 1250.1L482 1249.93L482.25 1250.29L482.5 1251.13L483.5 1256L483.75 1256.72L484 1256.99L484.25 1256.77L484.5 1256.05L484.75 1254.92L485.5 1250.48L485.75 1249.31L486 1248.6L486.25 1248.48L486.5 1248.95L486.75 1249.94L487.75 1255.47L488 1256.25L488.25 1256.51L488.5 1256.2L488.75 1255.35L490 1247.65L490.25 1246.88L490.5 1246.78L490.75 1247.36L491 1248.52L492 1254.8L492.25 1255.67L492.5 1255.94L492.75 1255.57L493 1254.57L494.25 1245.76L494.5 1244.9L494.75 1244.79L495 1245.46L495.25 1246.8L496.25 1253.99L496.5 1254.97L496.75 1255.28L497 1254.85L497.25 1253.7L498.5 1243.59L498.75 1242.58L499 1242.45L499.25 1243.2L499.5 1244.72L500.5 1252.98L500.75 1254.12L501 1254.5L501.25 1254.03L501.5 1252.74L502.75 1241.08L503 1239.88L503.25 1239.68L503.5 1240.5L503.75 1242.2L504.75 1251.73L505 1253.09L505.25 1253.57L505.5 1253.09L505.75 1251.66L506 1249.41L507 1238.19L507.25 1236.73L507.5 1236.4L507.75 1237.26L508 1239.16L509 1250.18L509.25 1251.83L509.5 1252.47L509.75 1252L510 1250.44L510.25 1247.91L511.25 1234.84L511.5 1233.03L511.75 1232.52L512 1233.38L512.25 1235.48L513.25 1248.26L513.5 1250.28L513.75 1251.14L514 1250.73L514.25 1249.03L514.5 1246.2L515.5 1230.94L515.75 1228.69L516 1227.91L516.25 1228.74L516.5 1231.04L517.5 1245.89L517.75 1248.37L518 1249.53L518.25 1249.22L518.5 1247.4L518.75 1244.23L519.75 1226.4L520 1223.58L520.25 1222.46L520.5 1223.21L520.75 1225.7L521.75 1242.98L522 1246.02L522.25 1247.57L522.5 1247.41L522.75 1245.49L523 1241.95L524 1221.08L524.25 1217.58L524.5 1216.01L524.75 1216.62L525 1219.3L526 1239.41L526.25 1243.15L526.5 1245.18L526.75 1245.22L527 1243.2L527.25 1239.26L528.25 1214.84L528.5 1210.51L528.75 1208.39L529 1208.81L529.25 1211.69L529.5 1216.58L530.25 1235.1L530.5 1239.66L530.75 1242.28L531 1242.58L531.25 1240.47L531.5 1236.07L532.5 1207.52L532.75 1202.21L533 1199.44L533.25 1199.62L533.5 1202.73L534.75 1235.5L535 1238.8L535.25 1239.41L535.5 1237.19L535.75 1232.25L536.75 1198.92L537 1192.51L537.25 1189L537.5 1188.93L537.75 1192.31L538 1198.59L538.75 1224.01L539 1230.64L539.25 1234.7L539.5 1235.65L539.75 1233.27L540 1227.69L541 1188.9L541.25 1181.27L541.5 1176.98L541.75 1176.71L542 1180.47L542.25 1187.66L543 1217.3L543.25 1225.14L543.5 1230.02L543.75 1231.28L544 1228.65L544.25 1222.29L545.25 1177.39L545.5 1168.5L545.75 1163.48L546 1163.1L546.25 1167.42L546.5 1175.73L547.25 1210.1L547.5 1219.21L547.75 1224.89L548 1226.37L548.25 1223.34L548.5 1216.01L549.5 1164.51L549.75 1154.43L550 1148.82L550.25 1148.58L550.5 1153.7L550.75 1163.38L551.5 1202.86L551.75 1213.2L552 1219.56L552.25 1221.09L552.5 1217.48L552.75 1208.98L553.75 1150.73L554 1139.67L554.25 1133.79L554.5 1133.99L554.75 1140.25L555 1151.53L555.75 1196.23L556 1207.63L556.25 1214.46L556.5 1215.8L556.75 1211.37L557 1201.53L558 1136.97L558.25 1125.33L558.5 1119.59L558.75 1120.66L559 1128.35L559.25 1141.43L560 1190.98L560.25 1203.13L560.5 1210.09L560.75 1210.95L561 1205.5L561.25 1194.24L562.25 1124.57L562.5 1112.89L562.75 1107.82L563 1110.14L563.25 1119.48L564.25 1187.8L564.5 1200.27L564.75 1206.98L565 1207.09L565.25 1200.52L565.5 1187.94L566.5 1115.11L566.75 1103.97L567 1100L567.25 1103.81L567.5 1114.8L568.5 1187.08L568.75 1199.37L569 1205.5L569.25 1204.72L569.5 1197.1L569.75 1183.49L570.75 1109.88L571 1099.75L571.25 1097.13L571.5 1102.42L571.75 1114.78L572.75 1188.72L573 1200.43L573.25 1205.75L573.5 1204.11L573.75 1195.7L574 1181.5L574.75 1124.45L575 1109.44L575.25 1100.57L575.5 1099.28L575.75 1105.77L576 1119.01L577 1192.23L577.25 1203.09L577.5 1207.57L577.75 1205.25L578 1196.42L578.25 1182.17L579 1127.24L579.25 1113.46L579.5 1105.86L579.75 1105.65L580 1112.87L580.25 1126.39L581.25 1196.9L581.5 1206.82L581.75 1210.57L582 1207.85L582.25 1199.02L583.25 1133.46L583.5 1120.95L583.75 1114.42L584 1114.91L584.25 1122.36L584.5 1135.6L585.25 1188.16L585.5 1202.05L585.75 1211.07L586 1214.29L586.25 1211.47L586.5 1203L587.5 1142L587.75 1130.65L588 1124.92L588.25 1125.72L588.5 1132.95L589.75 1207.17L590 1215.42L590.25 1218.31L590.5 1215.63L590.75 1207.79L591.75 1151.75L592 1141.38L592.25 1136.18L592.5 1136.99L592.75 1143.68L594 1211.92L594.25 1219.55L594.5 1222.28L594.75 1219.94L595 1212.88L596 1161.83L596.25 1152.27L596.5 1147.39L596.75 1147.97L597 1153.93L597.25 1164.35L598 1205.33L598.25 1216.19L598.5 1223.31L598.75 1226.01L599 1224.1L599.25 1217.88L600.25 1171.61L600.5 1162.73L600.75 1158.03L601 1158.27L601.25 1163.42L601.5 1172.68L602.5 1219.92L602.75 1226.63L603 1229.37L603.25 1227.92L603.5 1222.54L603.75 1213.89L604.5 1180.73L604.75 1172.43L605 1167.83L605.25 1167.69L605.5 1172.02L605.75 1180.16L606.75 1223.16L607 1229.53L607.25 1232.33L607.5 1231.33L607.75 1226.74L608 1219.11L608.75 1189.01L609 1181.21L609.25 1176.7L609.5 1176.18L609.75 1179.75L610 1186.86L611 1225.99L611.25 1232.04L611.5 1234.89L611.75 1234.3L612 1230.42L612.25 1223.71L613.25 1189.05L613.5 1184.61L613.75 1183.77L614 1186.67L614.25 1192.85L615.25 1228.47L615.5 1234.23L615.75 1237.1L616 1236.86L616.25 1233.58L616.5 1227.69L617.5 1195.95L617.75 1191.62L618 1190.53L618.25 1192.85L618.5 1198.22L619.5 1230.69L619.75 1236.15L620 1239.02L620.25 1239.04L620.5 1236.28L620.75 1231.08L621.75 1201.98L622 1197.79L622.25 1196.51L622.5 1198.37L622.75 1203.06L623.5 1225.75L624 1237.87L624.25 1240.68L624.5 1240.9L624.75 1238.54L625 1233.92L626 1207.2L626.25 1203.18L626.5 1201.81L626.75 1203.31L627 1207.44L628 1234.58L628.25 1239.43L628.5 1242.15L628.75 1242.48L629 1240.44L629.25 1236.29L630.25 1211.69L630.5 1207.88L630.75 1206.49L631 1207.74L631.25 1211.43L632.25 1236.36L632.5 1240.88L632.75 1243.46L633 1243.83L633.25 1242.02L633.5 1238.24L633.75 1232.96L634.5 1215.53L634.75 1211.97L635 1210.63L635.25 1211.72L635.5 1215.09L636.5 1238.06L636.75 1242.25L637 1244.64L637.25 1245L637.5 1243.32L637.75 1239.82L638 1234.93L638.75 1218.8L639 1215.51L639.25 1214.29L639.5 1215.32L639.75 1218.45L640.75 1239.71L641 1243.56L641.25 1245.72L641.5 1245.99L641.75 1244.37L642 1241.06L643 1221.56L643.25 1218.58L643.5 1217.53L643.75 1218.59L644 1221.58L645 1241.33L645.25 1244.82L645.5 1246.71L645.75 1246.84L646 1245.2L646.25 1242.02L647.25 1223.88L647.5 1221.25L647.75 1220.44L648 1221.59L648.25 1224.52L649.25 1242.92L649.5 1246.02L649.75 1247.61L650 1247.54L650.25 1245.83L650.5 1242.7L651.5 1225.84L651.75 1223.58L652 1223.07L652.25 1224.39L652.5 1227.32L653.5 1244.46L653.75 1247.17L654 1248.41L654.25 1248.09L654.5 1246.25L654.75 1243.13L655.5 1230.7L655.75 1227.49L656 1225.66L656.25 1225.49L656.5 1227.02L656.75 1230.01L657.75 1245.96L658 1248.23L658.25 1249.09L658.5 1248.47L658.75 1246.46L659.75 1231.67L660 1228.93L660.25 1227.55L660.5 1227.78L660.75 1229.57L661 1232.64L661.75 1244.41L662 1247.37L662.25 1249.18L662.5 1249.62L662.75 1248.67L663 1246.45L663.25 1243.26L664 1232.45L664.25 1230.21L664.5 1229.35L664.75 1230L665 1232.08L666 1246.2L666.25 1248.68L666.5 1249.97L666.75 1249.96L667 1248.65L667.25 1246.21L668.25 1233.12L668.5 1231.43L668.75 1231.12L669 1232.24L669.25 1234.6L670.25 1247.87L670.5 1249.81L670.75 1250.56L671 1250.06L671.25 1248.38L672.25 1236.01L672.5 1233.76L672.75 1232.69L673 1232.96L673.25 1234.54L674.25 1246.99L674.5 1249.36L674.75 1250.71L675 1250.89L675.25 1249.89L675.5 1247.84L676.5 1236.11L676.75 1234.48L677 1234.08L677.25 1234.95L677.5 1236.98L678.5 1248.82L678.75 1250.6L679 1251.31L679.25 1250.88L679.5 1249.38L680.5 1238.31L680.75 1236.32L681 1235.4L681.25 1235.7L681.5 1237.16L682.5 1248.33L682.75 1250.38L683 1251.48L683.25 1251.52L683.5 1250.48L683.75 1248.53L684.5 1240.27L684.75 1238.07L685 1236.79L685.25 1236.64L685.5 1237.64L685.75 1239.63L686.5 1247.96L686.75 1250.17L687 1251.54L687.25 1251.92L687.5 1251.26L687.75 1249.66L688.75 1239.64L689 1238.14L689.25 1237.67L689.5 1238.31L689.75 1239.95L690.75 1250.04L691 1251.57L691.25 1252.18L691.5 1251.79L691.75 1250.48L692.75 1240.99L693 1239.37L693.25 1238.7L693.5 1239.08L693.75 1240.46L694.75 1250.04L695 1251.64L695.25 1252.38L695.5 1252.18L695.75 1251.06L696 1249.18L696.75 1242.08L697 1240.44L697.25 1239.67L697.5 1239.91L697.75 1241.11L698.75 1250.19L699 1251.79L699.25 1252.57L699.5 1252.45L699.75 1251.45L700 1249.71L700.75 1242.94L701 1241.33L701.25 1240.56L701.5 1240.74L701.75 1241.85L702.75 1250.49L703 1252.02L703.25 1252.77L703.5 1252.65L703.75 1251.69L704 1250.02L704.75 1243.57L705 1242.06L705.25 1241.36L705.5 1241.58L705.75 1242.68L706.75 1250.92L707 1252.33L707.25 1252.98L707.5 1252.78L707.75 1251.79L708.75 1244L709 1242.65L709.25 1242.1L709.5 1242.43L709.75 1243.59L710.75 1251.46L711 1252.69L711.25 1253.16L711.5 1252.83L711.75 1251.74L712.75 1244.28L713 1243.15L713.25 1242.81L713.5 1243.32L713.75 1244.59L714.75 1252.07L715 1253.06L715.25 1253.3L715.5 1252.76L715.75 1251.53L716.75 1244.45L717 1243.6L717.25 1243.55L717.5 1244.29L717.75 1245.71L718.5 1251.35L718.75 1252.69L719 1253.38L719.25 1253.32L719.5 1252.53L719.75 1251.14L720.5 1245.79L720.75 1244.6L721 1244.1L721.25 1244.39L721.5 1245.41L722.5 1252.24L722.75 1253.24L723 1253.57L723.25 1253.16L723.5 1252.1L724.5 1245.63L724.75 1244.82L725 1244.74L725.25 1245.41L725.5 1246.7L726.25 1251.84L726.5 1253.04L726.75 1253.63L727 1253.53L727.25 1252.75L728.25 1246.57L728.5 1245.57L728.75 1245.24L729 1245.63L729.25 1246.67L730.25 1252.87L730.5 1253.63L730.75 1253.74L731 1253.18L731.25 1252.04L732 1247.37L732.25 1246.27L732.5 1245.78L732.75 1245.98L733 1246.83L734 1252.78L734.25 1253.63L734.5 1253.86L734.75 1253.44L735 1252.45L735.75 1247.98L736 1246.86L736.25 1246.3L736.5 1246.4L736.75 1247.14L737.75 1252.81L738 1253.67L738.25 1253.95L738.5 1253.59L738.75 1252.68L739.5 1248.42L739.75 1247.33L740 1246.77L740.25 1246.85L740.5 1247.55L741.5 1252.96L741.75 1253.78L742 1254.02L742.25 1253.66L742.5 1252.76L743.25 1248.68L743.5 1247.68L743.75 1247.19L744 1247.33L744.25 1248.05L745.25 1253.22L745.5 1253.93L745.75 1254.07L746 1253.64L746.25 1252.7L747 1248.81L747.25 1247.93L747.5 1247.59L747.75 1247.84L748 1248.64L748.75 1252.53L749 1253.55L749.25 1254.09L749.5 1254.08L749.75 1253.51L750.75 1248.83L751 1248.15L751.25 1248.01L751.5 1248.44L751.75 1249.35L752.5 1253.08L752.75 1253.89L753 1254.21L753.25 1253.98L753.5 1253.25L754.25 1249.71L754.5 1248.82L754.75 1248.39L755 1248.51L755.25 1249.16L756.25 1253.63L756.5 1254.18L756.75 1254.21L757 1253.73L757.25 1252.82L758 1249.48L758.25 1248.87L758.5 1248.76L758.75 1249.18L759 1250.04L759.75 1253.41L760 1254.09L760.25 1254.3L760.5 1254.01L760.75 1253.26L761.5 1250.04L761.75 1249.33L762 1249.08L762.25 1249.34L762.5 1250.06L763.25 1253.29L763.5 1254.03L763.75 1254.34L764 1254.16L764.25 1253.53L765 1250.46L765.25 1249.73L765.5 1249.42L765.75 1249.59L766 1250.22L766.75 1253.29L767 1254.04L767.25 1254.37L767.5 1254.24L767.75 1253.67L768.5 1250.75L768.75 1250.04L769 1249.73L769.25 1249.89L769.5 1250.49L770.25 1253.41L770.5 1254.11L770.75 1254.41L771 1254.26L771.25 1253.69L772 1250.92L772.25 1250.27L772.5 1250.03L772.75 1250.24L773 1250.85L773.75 1253.63L774 1254.24L774.25 1254.45L774.5 1254.22L774.75 1253.61L775.5 1250.98L775.75 1250.45L776 1250.33L776.25 1250.64L776.5 1251.31L777.25 1253.92L777.5 1254.38L777.75 1254.45L778 1254.1L778.75 1251.67L779 1250.98L779.25 1250.63L779.5 1250.67L779.75 1251.12L780.5 1253.6L780.75 1254.22L781 1254.49L781.25 1254.36L781.5 1253.87L782.25 1251.5L782.5 1251L782.75 1250.86L783 1251.12L783.25 1251.72L784 1254.06L784.25 1254.46L784.5 1254.48L784.75 1254.13L785.5 1251.93L785.75 1251.36L786 1251.12L786.25 1251.25L786.5 1251.73L787.25 1253.96L787.5 1254.42L787.75 1254.53L788 1254.28L789 1251.66L789.25 1251.37L789.5 1251.44L789.75 1251.85L790.5 1253.95L790.75 1254.42L791 1254.55L791.25 1254.34L792.25 1251.89L792.5 1251.61L792.75 1251.67L793 1252.06L793.75 1254.04L794 1254.46L794.25 1254.57L794.5 1254.34L794.75 1253.84L795.25 1252.54L795.5 1252.04L795.75 1251.82L796 1251.92L796.25 1252.33L797 1254.19L797.25 1254.53L797.5 1254.56L797.75 1254.28L798.5 1252.55L798.75 1252.15L799 1252.03L799.25 1252.22L799.5 1252.68L800 1253.9L800.25 1254.37L800.5 1254.59L800.75 1254.51L801 1254.15L801.75 1252.53L802 1252.26L802.25 1252.28L802.5 1252.59L803.25 1254.21L803.5 1254.54L803.75 1254.6L804 1254.38L804.75 1252.87L805 1252.52L805.25 1252.43L805.5 1252.63L806.25 1254.11L806.5 1254.49L806.75 1254.63L807 1254.49L807.25 1254.13L807.75 1253.13L808 1252.76L808.25 1252.62L808.5 1252.74L809.5 1254.47L809.75 1254.64L810 1254.54L810.25 1254.23L811 1252.95L811.25 1252.8L811.5 1252.9L811.75 1253.22L812.5 1254.5L812.75 1254.65L813 1254.56L813.25 1254.26L813.75 1253.4L814 1253.08L814.25 1252.97L814.5 1253.09L815.5 1254.56L815.75 1254.66L816 1254.54L816.75 1253.44L817 1253.19L817.25 1253.15L817.5 1253.31L818.25 1254.42L818.5 1254.64L818.75 1254.66L819 1254.47L819.75 1253.45L820 1253.3L820.25 1253.35L820.5 1253.58L821.25 1254.58L821.5 1254.69L821.75 1254.6L822.5 1253.69L822.75 1253.48L823 1253.46L823.25 1253.61L824 1254.54L824.25 1254.69L824.5 1254.66L824.75 1254.47L825.5 1253.65L825.75 1253.59L826 1253.7L826.75 1254.54L827 1254.7L827.25 1254.69L827.5 1254.53L828.25 1253.79L828.5 1253.72L828.75 1253.82L829.5 1254.58L829.75 1254.72L830 1254.7L830.25 1254.55L830.75 1254.06L831 1253.89L831.25 1253.86L831.5 1253.97L832.25 1254.65L832.5 1254.74L832.75 1254.7L833.5 1254.1L833.75 1253.99L834 1254L835 1254.72L835.25 1254.76L835.5 1254.67L836.25 1254.14L836.5 1254.09L836.75 1254.16L837.5 1254.7L837.75 1254.78L838 1254.74L838.75 1254.28L839 1254.2L839.25 1254.23L840 1254.7L840.25 1254.79L840.5 1254.78L841.5 1254.31L841.75 1254.32L842.75 1254.81L843 1254.81L844 1254.4L844.25 1254.42L845.25 1254.84L845.5 1254.83L846.25 1254.53L846.5 1254.49L847.75 1254.87L848.75 1254.59L849 1254.58L850 1254.89L850.25 1254.89L851.25 1254.65L852.5 1254.92L853.5 1254.73L854.75 1254.95L855.75 1254.8L857 1254.98L858 1254.86L859 1255L860.25 1254.93L861.25 1255.04L862.25 1254.98L863.25 1255.07L864.25 1255.03L865.25 1255.1L866.25 1255.08L899.25 1255.71L899.75 1255.79L900.25 1255.96L900.75 1256.3L901 1256.56L901.5 1257.26L902.75 1259.45L903.5 1260.34L903.75 1260.52L904.25 1260.73L905 1260.84L977 1260.86" stroke="#4486f6" stroke-width="5.40"/>
<path d="M158 1260.85L267.5 1260.79L303 1260.72L331.75 1260.61L356.25 1260.46L376.75 1260.26L394.5 1259.99L409.75 1259.65L417.25 1259.43L424.25 1259.19L430.75 1258.92L436.75 1258.63L442.5 1258.3L447.75 1257.95L453 1257.54L457.75 1257.11L462.25 1256.65L466.75 1256.12L470.75 1255.57L474.75 1254.96L478.5 1254.3L482 1253.61L485.25 1252.89L488.5 1252.09L491.75 1251.18L494.75 1250.24L497.75 1249.19L500.5 1248.12L503.25 1246.93L505.75 1245.73L508.25 1244.41L510.5 1243.11L512.75 1241.67L515 1240.11L517.25 1238.39L519.25 1236.72L521.25 1234.91L523.25 1232.94L525.25 1230.81L527.25 1228.49L529 1226.3L530.75 1223.96L532.5 1221.45L534 1219.16L535.75 1216.33L537.25 1213.75L538.75 1211.04L540.5 1207.7L541.75 1205.21L543.25 1202.1L544.75 1198.87L546.25 1195.53L549 1189.18L554.75 1175.56L557.25 1169.89L558.5 1167.22L559.5 1165.17L560.75 1162.77L561.75 1160.98L563 1158.94L564.25 1157.13L565 1156.17L565.5 1155.58L566.25 1154.78L566.75 1154.3L567.5 1153.67L568 1153.31L568.75 1152.86L569.25 1152.62L569.75 1152.43L570.25 1152.28L570.75 1152.18L571.5 1152.13L572 1152.15L572.5 1152.21L573 1152.33L573.5 1152.48L574.5 1152.93L575 1153.22L575.75 1153.73L576.75 1154.54L578 1155.76L579 1156.88L580.25 1158.45L581.25 1159.83L582.25 1161.29L583.5 1163.24L584.75 1165.28L587.25 1169.59L593.75 1181.25L597 1186.91L598.75 1189.84L600.5 1192.67L602.25 1195.39L603.75 1197.64L605.5 1200.15L607.5 1202.89L609.5 1205.47L611.5 1207.91L613.5 1210.22L615.5 1212.38L617.5 1214.42L619.75 1216.58L622 1218.59L624.5 1220.66L627 1222.59L629.5 1224.37L632 1226.03L634.75 1227.72L637.5 1229.28L640.25 1230.73L643.25 1232.18L646.25 1233.52L649.25 1234.75L652.5 1235.99L655.75 1237.12L659.25 1238.25L663 1239.35L666.75 1240.36L671 1241.4L675.25 1242.35L679.75 1243.27L684.5 1244.15L689.5 1244.99L694.75 1245.79L700 1246.51L705.75 1247.23L711.75 1247.91L718 1248.55L724.5 1249.15L731.25 1249.71L738.5 1250.26L746 1250.77L754 1251.27L762.5 1251.74L771.25 1252.18L780.5 1252.59L800.5 1253.37L822.75 1254.06L847.5 1254.7L875 1255.27L905.5 1255.78L939.5 1256.25L977 1256.68" stroke="#f8b83a" stroke-width="4.00"/>
<path d="M166 1260.85L272 1260.78L307 1260.7L335 1260.6L359 1260.44L379.25 1260.22L396.5 1259.95L411.5 1259.6L418.75 1259.38L425.5 1259.14L431.75 1258.87L437.75 1258.57L443.5 1258.23L448.75 1257.87L453.75 1257.47L458.5 1257.04L463 1256.56L467.25 1256.05L471.25 1255.5L475.25 1254.88L479 1254.21L482.5 1253.51L485.75 1252.77L489 1251.95L492 1251.1L495 1250.16L498 1249.1L500.75 1248.02L503.5 1246.82L506 1245.61L508.5 1244.27L510.75 1242.95L513 1241.51L515.25 1239.92L517.5 1238.18L519.5 1236.5L521.5 1234.67L523.5 1232.68L525.5 1230.53L527.25 1228.49L529 1226.3L530.75 1223.96L532.5 1221.45L534 1219.16L535.75 1216.33L537.25 1213.75L538.75 1211.04L540.5 1207.7L541.75 1205.21L543.25 1202.1L544.75 1198.87L546.25 1195.53L549 1189.18L554.75 1175.56L557.25 1169.89L558.5 1167.22L559.5 1165.17L560.75 1162.77L561.75 1160.98L563 1158.94L564.25 1157.13L565 1156.17L565.5 1155.58L566.25 1154.78L566.75 1154.3L567.5 1153.67L568 1153.31L568.75 1152.86L569.25 1152.62L569.75 1152.43L570.25 1152.28L570.75 1152.18L571.5 1152.13L572 1152.15L572.5 1152.21L573 1152.33L573.5 1152.48L574.5 1152.93L575 1153.22L575.75 1153.73L576.75 1154.54L578 1155.76L579 1156.88L580.25 1158.45L581.25 1159.83L582.25 1161.29L583.5 1163.24L584.75 1165.28L587.25 1169.59L593.75 1181.25L597 1186.91L598.75 1189.84L600.5 1192.67L602.25 1195.39L603.75 1197.64L605.5 1200.15L607.5 1202.89L609.5 1205.47L611.5 1207.91L613.5 1210.22L615.5 1212.38L617.5 1214.42L619.75 1216.58L622 1218.59L624.5 1220.66L627 1222.59L629.5 1224.37L632 1226.03L634.75 1227.72L637.5 1229.28L640.25 1230.73L643.25 1232.18L646.25 1233.52L649.25 1234.75L652.5 1235.99L655.75 1237.12L659.25 1238.25L663 1239.35L666.75 1240.36L671 1241.4L675.25 1242.35L679.75 1243.27L684.5 1244.15L689.5 1244.99L694.75 1245.79L700 1246.51L705.75 1247.23L711.75 1247.91L718 1248.55L724.5 1249.15L731.25 1249.71L738.5 1250.26L746 1250.77L754 1251.27L762.5 1251.74L771.25 1252.18L780.5 1252.59L800.5 1253.37L822.75 1254.06L847.5 1254.7L875 1255.27L905.5 1255.78L939.5 1256.25L977 1256.68" stroke="#000" stroke-opacity="0.82" stroke-width="7.20" stroke-dasharray="26.65 11.52" stroke-dashoffset="15.65"/>
</g>
<g stroke="#000" stroke-width="3.33" fill="none">
<rect x="166.00" y="80.10" width="803.00" height="341.90" stroke-linejoin="miter"/>
<line stroke-width="3" x1="232.92" y1="422.00" x2="232.92" y2="434.60"/>
<line stroke-width="3" x1="400.21" y1="422.00" x2="400.21" y2="434.60"/>
<line stroke-width="3" x1="567.50" y1="422.00" x2="567.50" y2="434.60"/>
<line stroke-width="3" x1="734.79" y1="422.00" x2="734.79" y2="434.60"/>
<line stroke-width="3" x1="902.08" y1="422.00" x2="902.08" y2="434.60"/>
<line stroke-width="3" x1="166.00" y1="409.00" x2="153.00" y2="409.00"/>
<line stroke-width="3" x1="166.00" y1="244.55" x2="153.00" y2="244.55"/>
<line stroke-width="3" x1="166.00" y1="80.10" x2="153.00" y2="80.10"/>
<rect x="166.00" y="507.40" width="803.00" height="341.80" stroke-linejoin="miter"/>
<line stroke-width="3" x1="232.92" y1="849.20" x2="232.92" y2="861.80"/>
<line stroke-width="3" x1="400.21" y1="849.20" x2="400.21" y2="861.80"/>
<line stroke-width="3" x1="567.50" y1="849.20" x2="567.50" y2="861.80"/>
<line stroke-width="3" x1="734.79" y1="849.20" x2="734.79" y2="861.80"/>
<line stroke-width="3" x1="902.08" y1="849.20" x2="902.08" y2="861.80"/>
<line stroke-width="3" x1="166.00" y1="838.07" x2="153.00" y2="838.07"/>
<line stroke-width="3" x1="166.00" y1="672.73" x2="153.00" y2="672.73"/>
<line stroke-width="3" x1="166.00" y1="507.40" x2="153.00" y2="507.40"/>
<rect x="166.00" y="934.60" width="803.00" height="341.80" stroke-linejoin="miter"/>
<line stroke-width="3" x1="232.92" y1="1276.40" x2="232.92" y2="1289.00"/>
<line stroke-width="3" x1="400.21" y1="1276.40" x2="400.21" y2="1289.00"/>
<line stroke-width="3" x1="567.50" y1="1276.40" x2="567.50" y2="1289.00"/>
<line stroke-width="3" x1="734.79" y1="1276.40" x2="734.79" y2="1289.00"/>
<line stroke-width="3" x1="902.08" y1="1276.40" x2="902.08" y2="1289.00"/>
<line stroke-width="3" x1="166.00" y1="1260.86" x2="153.00" y2="1260.86"/>
<line stroke-width="3" x1="166.00" y1="1099.36" x2="153.00" y2="1099.36"/>
<line stroke-width="3" x1="166.00" y1="937.86" x2="153.00" y2="937.86"/>
</g>
<g><line x1="197.9" x2="270.2" y1="127.4" y2="127.4" stroke="#1be2b4" stroke-width="5.4" stroke-linecap="square"/>
<line x1="197.9" x2="270.2" y1="180.0" y2="180.0" stroke="#4486f6" stroke-width="5.4" stroke-linecap="square"/>
<line x1="197.9" x2="270.2" y1="232.9" y2="232.9" stroke="#f8b83a" stroke-width="4.0" stroke-linecap="square"/>
<line x1="198.1" x2="270.2" y1="285.6" y2="285.6" stroke="#000" stroke-opacity="0.82" stroke-width="7.2" stroke-dasharray="26.65 11.52"/></g>
<g opacity=".999"><text transform="translate(439.33 58.20) scale(1.0942 1)" font-size="45.10">Logarithmic</text>
<text transform="translate(462.46 485.50) scale(1.0582 1)" font-size="45.10">Equalized</text>
<text transform="translate(506.02 912.70) scale(0.9632 1)" font-size="45.10">BSDO</text>
<text transform="translate(83.80 423.20) scale(1.0474 1)" font-size="38.76">0.0</text>
<text transform="translate(83.82 258.75) scale(1.0322 1)" font-size="38.76">0.2</text>
<text transform="translate(83.80 94.30) scale(1.0466 1)" font-size="38.76">0.4</text>
<text transform="translate(889.70 127.20) scale(0.9451 1)" font-size="40.71">(</text>
<text transform="translate(906.28 130.10) scale(0.8999 1)" font-size="45.10">a</text>
<text transform="translate(935.01 127.20) scale(0.9451 1)" font-size="40.71">)</text>
<text transform="translate(83.80 852.27) scale(1.0474 1)" font-size="38.76">0.0</text>
<text transform="translate(83.82 686.93) scale(1.0322 1)" font-size="38.76">0.2</text>
<text transform="translate(83.80 521.60) scale(1.0466 1)" font-size="38.76">0.4</text>
<text transform="translate(889.70 554.50) scale(0.9451 1)" font-size="40.71">(</text>
<text transform="translate(905.85 557.40) scale(1.0742 1)" font-size="45.10">b</text>
<text transform="translate(936.01 554.50) scale(0.9544 1)" font-size="40.71">)</text>
<text transform="translate(83.80 1275.06) scale(1.0474 1)" font-size="38.76">0.0</text>
<text transform="translate(83.80 1113.56) scale(1.0466 1)" font-size="38.76">0.4</text>
<text transform="translate(83.80 952.06) scale(1.0496 1)" font-size="38.76">0.8</text>
<text transform="translate(889.70 981.70) scale(0.9451 1)" font-size="40.71">(</text>
<text transform="translate(905.76 984.60) scale(1.0107 1)" font-size="45.10">c</text>
<text transform="translate(932.51 981.70) scale(0.9451 1)" font-size="40.71">)</text>
<text transform="translate(190.25 1329.00) scale(1.1277 1)" font-size="38.76">−1.0</text>
<text transform="translate(357.56 1329.00) scale(1.1192 1)" font-size="38.76">−0.5</text>
<text transform="translate(539.22 1329.00) scale(1.0474 1)" font-size="38.76">0.0</text>
<text transform="translate(706.53 1329.00) scale(1.0351 1)" font-size="38.76">0.5</text>
<text transform="translate(874.04 1329.00) scale(1.0430 1)" font-size="38.76">1.0</text>
<text transform="translate(299.37 139.70) scale(1.0491 1)" font-size="38.76">120</text>
<text transform="translate(299.00 192.20) scale(1.0549 1)" font-size="38.76">240</text>
<text transform="translate(299.34 244.90) scale(1.0094 1)" font-size="38.76">4 (Padé)</text>
<text transform="translate(298.64 297.60) scale(1.0383 1)" font-size="38.76">Exact</text>
<text transform="translate(447.28 1382.85) scale(0.9670 1)" font-size="38.76" font-style="italic">ω</text>
<text transform="translate(489.65 1380.37) scale(0.8962 1)" font-size="34.86">(</text>
<text transform="translate(503.75 1382.85) scale(0.9802 1)" font-size="38.76">10</text>
<text transform="translate(549.42 1369.50) scale(0.9621 1)" font-size="27.13">3</text>
<text transform="translate(576.95 1382.85) scale(1.0593 1)" font-size="38.76">cm</text>
<text transform="translate(633.13 1369.20) scale(1.1560 1)" font-size="27.13">−1</text>
<text transform="translate(672.76 1380.37) scale(0.9290 1)" font-size="34.86">)</text>
<path transform="translate(58.40 393.60) rotate(-90) scale(0.0175 -0.0175)" d="M403 -49Q306 -49 234.5 -11.5Q163 26 115.5 93.5Q68 161 46.5 242.0Q25 323 25 416Q25 599 92.5 785.5Q160 972 282.0 1120.5Q404 1269 571.5 1356.5Q739 1444 932 1444H944Q1011 1444 1052.5 1410.0Q1094 1376 1094 1311Q1094 1254 1061.0 1177.0Q1028 1100 981 1016Q959 979 914.5 952.0Q870 925 823 920H813Q799 927 799 934Q799 943 831.5 1007.0Q864 1071 887.5 1127.5Q911 1184 911 1225Q911 1275 879.5 1299.0Q848 1323 795 1323Q644 1323 541.5 1251.0Q439 1179 356 1038Q287 919 247.0 780.5Q207 642 207 504Q207 391 243.0 291.5Q279 192 357.0 132.0Q435 72 553 72Q677 72 774 164Q787 178 827.5 231.5Q868 285 903.0 310.0Q938 335 993 340H1004Q1018 333 1018 324Q1018 316 1012 307Q954 211 856.0 129.0Q758 47 641.0 -1.0Q524 -49 416 -49Z"><title>C</title></path>
<line x1="28.2" x2="28.2" y1="376.30" y2="386.40" stroke="#000" stroke-width="2.7"/>
<text transform="translate(55.92 373.08) rotate(-90) scale(0.8634 1)" font-size="34.86">(</text>
<text transform="translate(58.40 359.38) rotate(-90) scale(0.9345 1)" font-size="38.76" font-style="italic">ω</text>
<text transform="translate(55.92 327.53) rotate(-90) scale(0.8634 1)" font-size="34.86">)</text>
<text transform="translate(55.92 303.65) rotate(-90) scale(0.8962 1)" font-size="34.86">(</text>
<text transform="translate(58.40 289.55) rotate(-90) scale(0.9802 1)" font-size="38.76">10</text>
<text transform="translate(45.05 243.88) rotate(-90) scale(0.9621 1)" font-size="27.13">3</text>
<text transform="translate(58.40 216.35) rotate(-90) scale(1.0593 1)" font-size="38.76">cm</text>
<text transform="translate(44.75 160.17) rotate(-90) scale(1.1560 1)" font-size="27.13">−1</text>
<text transform="translate(55.92 120.54) rotate(-90) scale(0.9290 1)" font-size="34.86">)</text>
<path transform="translate(58.40 820.90) rotate(-90) scale(0.0175 -0.0175)" d="M403 -49Q306 -49 234.5 -11.5Q163 26 115.5 93.5Q68 161 46.5 242.0Q25 323 25 416Q25 599 92.5 785.5Q160 972 282.0 1120.5Q404 1269 571.5 1356.5Q739 1444 932 1444H944Q1011 1444 1052.5 1410.0Q1094 1376 1094 1311Q1094 1254 1061.0 1177.0Q1028 1100 981 1016Q959 979 914.5 952.0Q870 925 823 920H813Q799 927 799 934Q799 943 831.5 1007.0Q864 1071 887.5 1127.5Q911 1184 911 1225Q911 1275 879.5 1299.0Q848 1323 795 1323Q644 1323 541.5 1251.0Q439 1179 356 1038Q287 919 247.0 780.5Q207 642 207 504Q207 391 243.0 291.5Q279 192 357.0 132.0Q435 72 553 72Q677 72 774 164Q787 178 827.5 231.5Q868 285 903.0 310.0Q938 335 993 340H1004Q1018 333 1018 324Q1018 316 1012 307Q954 211 856.0 129.0Q758 47 641.0 -1.0Q524 -49 416 -49Z"><title>C</title></path>
<line x1="28.2" x2="28.2" y1="803.60" y2="813.70" stroke="#000" stroke-width="2.7"/>
<text transform="translate(55.92 800.38) rotate(-90) scale(0.8634 1)" font-size="34.86">(</text>
<text transform="translate(58.40 786.68) rotate(-90) scale(0.9345 1)" font-size="38.76" font-style="italic">ω</text>
<text transform="translate(55.92 754.83) rotate(-90) scale(0.8634 1)" font-size="34.86">)</text>
<text transform="translate(55.92 730.95) rotate(-90) scale(0.8962 1)" font-size="34.86">(</text>
<text transform="translate(58.40 716.85) rotate(-90) scale(0.9802 1)" font-size="38.76">10</text>
<text transform="translate(45.05 671.18) rotate(-90) scale(0.9621 1)" font-size="27.13">3</text>
<text transform="translate(58.40 643.65) rotate(-90) scale(1.0593 1)" font-size="38.76">cm</text>
<text transform="translate(44.75 587.47) rotate(-90) scale(1.1560 1)" font-size="27.13">−1</text>
<text transform="translate(55.92 547.84) rotate(-90) scale(0.9290 1)" font-size="34.86">)</text>
<path transform="translate(58.40 1248.10) rotate(-90) scale(0.0175 -0.0175)" d="M403 -49Q306 -49 234.5 -11.5Q163 26 115.5 93.5Q68 161 46.5 242.0Q25 323 25 416Q25 599 92.5 785.5Q160 972 282.0 1120.5Q404 1269 571.5 1356.5Q739 1444 932 1444H944Q1011 1444 1052.5 1410.0Q1094 1376 1094 1311Q1094 1254 1061.0 1177.0Q1028 1100 981 1016Q959 979 914.5 952.0Q870 925 823 920H813Q799 927 799 934Q799 943 831.5 1007.0Q864 1071 887.5 1127.5Q911 1184 911 1225Q911 1275 879.5 1299.0Q848 1323 795 1323Q644 1323 541.5 1251.0Q439 1179 356 1038Q287 919 247.0 780.5Q207 642 207 504Q207 391 243.0 291.5Q279 192 357.0 132.0Q435 72 553 72Q677 72 774 164Q787 178 827.5 231.5Q868 285 903.0 310.0Q938 335 993 340H1004Q1018 333 1018 324Q1018 316 1012 307Q954 211 856.0 129.0Q758 47 641.0 -1.0Q524 -49 416 -49Z"><title>C</title></path>
<line x1="28.2" x2="28.2" y1="1230.80" y2="1240.90" stroke="#000" stroke-width="2.7"/>
<text transform="translate(55.92 1227.58) rotate(-90) scale(0.8634 1)" font-size="34.86">(</text>
<text transform="translate(58.40 1213.88) rotate(-90) scale(0.9345 1)" font-size="38.76" font-style="italic">ω</text>
<text transform="translate(55.92 1182.03) rotate(-90) scale(0.8634 1)" font-size="34.86">)</text>
<text transform="translate(55.92 1158.15) rotate(-90) scale(0.8962 1)" font-size="34.86">(</text>
<text transform="translate(58.40 1144.05) rotate(-90) scale(0.9802 1)" font-size="38.76">10</text>
<text transform="translate(45.05 1098.38) rotate(-90) scale(0.9621 1)" font-size="27.13">3</text>
<text transform="translate(58.40 1070.85) rotate(-90) scale(1.0593 1)" font-size="38.76">cm</text>
<text transform="translate(44.75 1014.67) rotate(-90) scale(1.1560 1)" font-size="27.13">−1</text>
<text transform="translate(55.92 975.04) rotate(-90) scale(0.9290 1)" font-size="34.86">)</text></g>
</svg>
</body></html>
